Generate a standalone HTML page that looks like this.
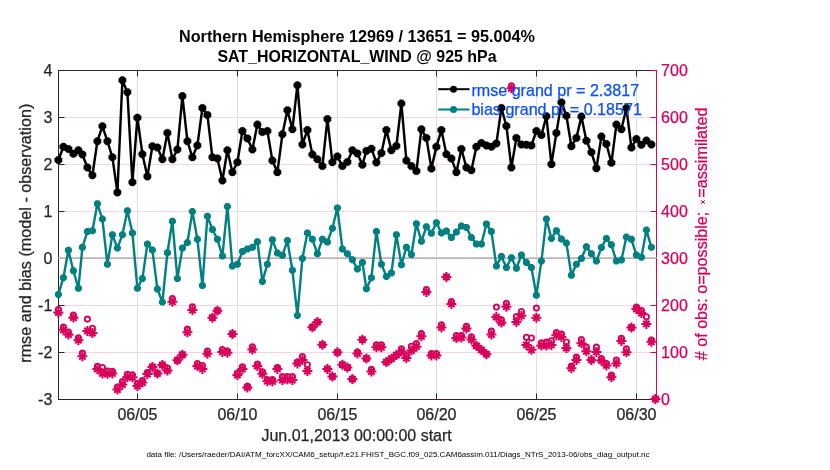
<!DOCTYPE html><html><head><meta charset="utf-8"><style>html,body{margin:0;padding:0;background:#fff;}svg{display:block;will-change:transform;}text{font-family:"Liberation Sans",sans-serif;}</style></head><body>
<svg width="830" height="470" viewBox="0 0 830 470">
<rect width="830" height="470" fill="#fff"/>
<line x1="137.5" y1="70.5" x2="137.5" y2="399.5" stroke="#dedede" stroke-width="1"/>
<line x1="237.5" y1="70.5" x2="237.5" y2="399.5" stroke="#dedede" stroke-width="1"/>
<line x1="337.5" y1="70.5" x2="337.5" y2="399.5" stroke="#dedede" stroke-width="1"/>
<line x1="436.5" y1="70.5" x2="436.5" y2="399.5" stroke="#dedede" stroke-width="1"/>
<line x1="536.5" y1="70.5" x2="536.5" y2="399.5" stroke="#dedede" stroke-width="1"/>
<line x1="636.5" y1="70.5" x2="636.5" y2="399.5" stroke="#dedede" stroke-width="1"/>
<line x1="58.5" y1="117.5" x2="656.5" y2="117.5" stroke="#f8d4e2" stroke-width="1"/>
<line x1="58.5" y1="164.5" x2="656.5" y2="164.5" stroke="#f8d4e2" stroke-width="1"/>
<line x1="58.5" y1="211.5" x2="656.5" y2="211.5" stroke="#f8d4e2" stroke-width="1"/>
<line x1="58.5" y1="305.5" x2="656.5" y2="305.5" stroke="#f8d4e2" stroke-width="1"/>
<line x1="58.5" y1="352.5" x2="656.5" y2="352.5" stroke="#f8d4e2" stroke-width="1"/>
<line x1="58.5" y1="70.5" x2="651" y2="70.5" stroke="#262626" stroke-width="1"/>
<line x1="651" y1="70.5" x2="656.5" y2="70.5" stroke="#d9005b" stroke-width="1"/>
<line x1="58.5" y1="399.5" x2="656.5" y2="399.5" stroke="#3c1c2a" stroke-width="1"/>
<line x1="58.5" y1="70.0" x2="58.5" y2="400.0" stroke="#262626" stroke-width="1"/>
<line x1="656.5" y1="70.0" x2="656.5" y2="400.0" stroke="#d9005b" stroke-width="1"/>
<line x1="137.5" y1="70.5" x2="137.5" y2="76.5" stroke="#262626" stroke-width="1"/>
<line x1="137.5" y1="399.5" x2="137.5" y2="393.5" stroke="#262626" stroke-width="1"/>
<line x1="237.5" y1="70.5" x2="237.5" y2="76.5" stroke="#262626" stroke-width="1"/>
<line x1="237.5" y1="399.5" x2="237.5" y2="393.5" stroke="#262626" stroke-width="1"/>
<line x1="337.5" y1="70.5" x2="337.5" y2="76.5" stroke="#262626" stroke-width="1"/>
<line x1="337.5" y1="399.5" x2="337.5" y2="393.5" stroke="#262626" stroke-width="1"/>
<line x1="436.5" y1="70.5" x2="436.5" y2="76.5" stroke="#262626" stroke-width="1"/>
<line x1="436.5" y1="399.5" x2="436.5" y2="393.5" stroke="#262626" stroke-width="1"/>
<line x1="536.5" y1="70.5" x2="536.5" y2="76.5" stroke="#262626" stroke-width="1"/>
<line x1="536.5" y1="399.5" x2="536.5" y2="393.5" stroke="#262626" stroke-width="1"/>
<line x1="636.5" y1="70.5" x2="636.5" y2="76.5" stroke="#262626" stroke-width="1"/>
<line x1="636.5" y1="399.5" x2="636.5" y2="393.5" stroke="#262626" stroke-width="1"/>
<line x1="58.5" y1="399.5" x2="64.5" y2="399.5" stroke="#3c1c2a" stroke-width="1"/>
<line x1="656.5" y1="399.5" x2="650.5" y2="399.5" stroke="#d9005b" stroke-width="1"/>
<line x1="58.5" y1="352.5" x2="64.5" y2="352.5" stroke="#3c1c2a" stroke-width="1"/>
<line x1="656.5" y1="352.5" x2="650.5" y2="352.5" stroke="#d9005b" stroke-width="1"/>
<line x1="58.5" y1="305.5" x2="64.5" y2="305.5" stroke="#3c1c2a" stroke-width="1"/>
<line x1="656.5" y1="305.5" x2="650.5" y2="305.5" stroke="#d9005b" stroke-width="1"/>
<line x1="58.5" y1="258.5" x2="64.5" y2="258.5" stroke="#3c1c2a" stroke-width="1"/>
<line x1="656.5" y1="258.5" x2="650.5" y2="258.5" stroke="#d9005b" stroke-width="1"/>
<line x1="58.5" y1="211.5" x2="64.5" y2="211.5" stroke="#3c1c2a" stroke-width="1"/>
<line x1="656.5" y1="211.5" x2="650.5" y2="211.5" stroke="#d9005b" stroke-width="1"/>
<line x1="58.5" y1="164.5" x2="64.5" y2="164.5" stroke="#3c1c2a" stroke-width="1"/>
<line x1="656.5" y1="164.5" x2="650.5" y2="164.5" stroke="#d9005b" stroke-width="1"/>
<line x1="58.5" y1="117.5" x2="64.5" y2="117.5" stroke="#3c1c2a" stroke-width="1"/>
<line x1="656.5" y1="117.5" x2="650.5" y2="117.5" stroke="#d9005b" stroke-width="1"/>
<line x1="58.5" y1="70.5" x2="64.5" y2="70.5" stroke="#3c1c2a" stroke-width="1"/>
<line x1="656.5" y1="70.5" x2="650.5" y2="70.5" stroke="#d9005b" stroke-width="1"/>
<line x1="58.5" y1="257.5" x2="656.5" y2="257.5" stroke="#cbcbcb" stroke-width="1"/>
<line x1="58.5" y1="258.5" x2="656.5" y2="258.5" stroke="#c9a9b3" stroke-width="1"/>
<polyline points="58.40,160.00 63.40,146.70 68.40,149.00 73.40,153.70 78.40,150.30 82.40,154.50 87.40,167.50 92.40,175.30 97.40,141.20 102.40,126.30 107.40,141.20 112.40,157.30 117.40,192.40 122.40,80.30 127.40,92.20 132.40,182.20 137.40,117.70 142.40,154.20 147.40,176.40 152.40,146.20 157.40,147.60 162.40,159.20 167.40,132.90 172.40,159.20 177.40,149.50 182.40,96.10 187.40,141.20 192.40,157.30 197.40,145.40 202.40,108.00 207.40,114.90 212.40,157.30 217.40,158.40 222.40,180.50 227.40,150.30 232.40,172.20 237.40,162.20 242.40,131.00 247.40,138.40 252.40,149.50 257.40,124.60 262.40,132.10 267.40,131.00 272.40,160.60 277.40,172.20 282.40,134.30 287.40,110.20 292.40,129.30 297.40,85.20 302.40,144.50 307.40,130.10 312.40,154.50 317.40,159.20 322.40,166.10 327.40,119.10 332.40,162.20 337.40,156.40 342.40,166.10 347.40,162.00 352.40,150.30 357.40,153.40 362.40,164.70 366.40,150.90 371.40,148.70 376.40,162.50 381.40,153.10 386.40,130.10 391.40,150.30 396.40,145.90 401.40,103.50 406.40,160.60 411.40,166.10 416.40,171.10 421.40,129.30 426.40,137.90 431.40,168.60 436.40,146.70 441.40,130.10 446.40,154.20 451.40,158.60 456.40,172.20 461.40,149.00 466.40,167.50 471.40,170.30 476.40,146.70 481.40,143.10 486.40,145.40 491.40,146.70 496.40,143.40 501.40,108.00 506.40,126.00 511.40,167.50 516.40,137.90 521.40,144.50 526.40,144.80 531.40,145.40 536.40,131.00 541.40,135.10 546.40,116.30 551.40,164.20 556.40,132.90 561.40,102.40 566.40,115.70 571.40,146.20 576.40,137.90 581.40,116.50 586.40,140.80 591.40,152.30 596.40,168.30 601.40,136.50 606.40,144.00 611.40,162.80 616.40,124.60 621.40,129.30 626.40,108.00 631.40,147.60 636.40,139.00 641.40,144.80 646.40,140.60 651.40,144.50" fill="none" stroke="#000" stroke-width="2.45" stroke-linejoin="round"/>
<polygon points="62.14,161.55 59.95,163.74 56.85,163.74 54.66,161.55 54.66,158.45 56.85,156.26 59.95,156.26 62.14,158.45" fill="#000" stroke="#000" stroke-width="0.3" stroke-linejoin="miter"/>
<polygon points="67.14,148.25 64.95,150.44 61.85,150.44 59.66,148.25 59.66,145.15 61.85,142.96 64.95,142.96 67.14,145.15" fill="#000" stroke="#000" stroke-width="0.3" stroke-linejoin="miter"/>
<polygon points="72.14,150.55 69.95,152.74 66.85,152.74 64.66,150.55 64.66,147.45 66.85,145.26 69.95,145.26 72.14,147.45" fill="#000" stroke="#000" stroke-width="0.3" stroke-linejoin="miter"/>
<polygon points="77.14,155.25 74.95,157.44 71.85,157.44 69.66,155.25 69.66,152.15 71.85,149.96 74.95,149.96 77.14,152.15" fill="#000" stroke="#000" stroke-width="0.3" stroke-linejoin="miter"/>
<polygon points="82.14,151.85 79.95,154.04 76.85,154.04 74.66,151.85 74.66,148.75 76.85,146.56 79.95,146.56 82.14,148.75" fill="#000" stroke="#000" stroke-width="0.3" stroke-linejoin="miter"/>
<polygon points="86.14,156.05 83.95,158.24 80.85,158.24 78.66,156.05 78.66,152.95 80.85,150.76 83.95,150.76 86.14,152.95" fill="#000" stroke="#000" stroke-width="0.3" stroke-linejoin="miter"/>
<polygon points="91.14,169.05 88.95,171.24 85.85,171.24 83.66,169.05 83.66,165.95 85.85,163.76 88.95,163.76 91.14,165.95" fill="#000" stroke="#000" stroke-width="0.3" stroke-linejoin="miter"/>
<polygon points="96.14,176.85 93.95,179.04 90.85,179.04 88.66,176.85 88.66,173.75 90.85,171.56 93.95,171.56 96.14,173.75" fill="#000" stroke="#000" stroke-width="0.3" stroke-linejoin="miter"/>
<polygon points="101.14,142.75 98.95,144.94 95.85,144.94 93.66,142.75 93.66,139.65 95.85,137.46 98.95,137.46 101.14,139.65" fill="#000" stroke="#000" stroke-width="0.3" stroke-linejoin="miter"/>
<polygon points="106.14,127.85 103.95,130.04 100.85,130.04 98.66,127.85 98.66,124.75 100.85,122.56 103.95,122.56 106.14,124.75" fill="#000" stroke="#000" stroke-width="0.3" stroke-linejoin="miter"/>
<polygon points="111.14,142.75 108.95,144.94 105.85,144.94 103.66,142.75 103.66,139.65 105.85,137.46 108.95,137.46 111.14,139.65" fill="#000" stroke="#000" stroke-width="0.3" stroke-linejoin="miter"/>
<polygon points="116.14,158.85 113.95,161.04 110.85,161.04 108.66,158.85 108.66,155.75 110.85,153.56 113.95,153.56 116.14,155.75" fill="#000" stroke="#000" stroke-width="0.3" stroke-linejoin="miter"/>
<polygon points="121.14,193.95 118.95,196.14 115.85,196.14 113.66,193.95 113.66,190.85 115.85,188.66 118.95,188.66 121.14,190.85" fill="#000" stroke="#000" stroke-width="0.3" stroke-linejoin="miter"/>
<polygon points="126.14,81.85 123.95,84.04 120.85,84.04 118.66,81.85 118.66,78.75 120.85,76.56 123.95,76.56 126.14,78.75" fill="#000" stroke="#000" stroke-width="0.3" stroke-linejoin="miter"/>
<polygon points="131.14,93.75 128.95,95.94 125.85,95.94 123.66,93.75 123.66,90.65 125.85,88.46 128.95,88.46 131.14,90.65" fill="#000" stroke="#000" stroke-width="0.3" stroke-linejoin="miter"/>
<polygon points="136.14,183.75 133.95,185.94 130.85,185.94 128.66,183.75 128.66,180.65 130.85,178.46 133.95,178.46 136.14,180.65" fill="#000" stroke="#000" stroke-width="0.3" stroke-linejoin="miter"/>
<polygon points="141.14,119.25 138.95,121.44 135.85,121.44 133.66,119.25 133.66,116.15 135.85,113.96 138.95,113.96 141.14,116.15" fill="#000" stroke="#000" stroke-width="0.3" stroke-linejoin="miter"/>
<polygon points="146.14,155.75 143.95,157.94 140.85,157.94 138.66,155.75 138.66,152.65 140.85,150.46 143.95,150.46 146.14,152.65" fill="#000" stroke="#000" stroke-width="0.3" stroke-linejoin="miter"/>
<polygon points="151.14,177.95 148.95,180.14 145.85,180.14 143.66,177.95 143.66,174.85 145.85,172.66 148.95,172.66 151.14,174.85" fill="#000" stroke="#000" stroke-width="0.3" stroke-linejoin="miter"/>
<polygon points="156.14,147.75 153.95,149.94 150.85,149.94 148.66,147.75 148.66,144.65 150.85,142.46 153.95,142.46 156.14,144.65" fill="#000" stroke="#000" stroke-width="0.3" stroke-linejoin="miter"/>
<polygon points="161.14,149.15 158.95,151.34 155.85,151.34 153.66,149.15 153.66,146.05 155.85,143.86 158.95,143.86 161.14,146.05" fill="#000" stroke="#000" stroke-width="0.3" stroke-linejoin="miter"/>
<polygon points="166.14,160.75 163.95,162.94 160.85,162.94 158.66,160.75 158.66,157.65 160.85,155.46 163.95,155.46 166.14,157.65" fill="#000" stroke="#000" stroke-width="0.3" stroke-linejoin="miter"/>
<polygon points="171.14,134.45 168.95,136.64 165.85,136.64 163.66,134.45 163.66,131.35 165.85,129.16 168.95,129.16 171.14,131.35" fill="#000" stroke="#000" stroke-width="0.3" stroke-linejoin="miter"/>
<polygon points="176.14,160.75 173.95,162.94 170.85,162.94 168.66,160.75 168.66,157.65 170.85,155.46 173.95,155.46 176.14,157.65" fill="#000" stroke="#000" stroke-width="0.3" stroke-linejoin="miter"/>
<polygon points="181.14,151.05 178.95,153.24 175.85,153.24 173.66,151.05 173.66,147.95 175.85,145.76 178.95,145.76 181.14,147.95" fill="#000" stroke="#000" stroke-width="0.3" stroke-linejoin="miter"/>
<polygon points="186.14,97.65 183.95,99.84 180.85,99.84 178.66,97.65 178.66,94.55 180.85,92.36 183.95,92.36 186.14,94.55" fill="#000" stroke="#000" stroke-width="0.3" stroke-linejoin="miter"/>
<polygon points="191.14,142.75 188.95,144.94 185.85,144.94 183.66,142.75 183.66,139.65 185.85,137.46 188.95,137.46 191.14,139.65" fill="#000" stroke="#000" stroke-width="0.3" stroke-linejoin="miter"/>
<polygon points="196.14,158.85 193.95,161.04 190.85,161.04 188.66,158.85 188.66,155.75 190.85,153.56 193.95,153.56 196.14,155.75" fill="#000" stroke="#000" stroke-width="0.3" stroke-linejoin="miter"/>
<polygon points="201.14,146.95 198.95,149.14 195.85,149.14 193.66,146.95 193.66,143.85 195.85,141.66 198.95,141.66 201.14,143.85" fill="#000" stroke="#000" stroke-width="0.3" stroke-linejoin="miter"/>
<polygon points="206.14,109.55 203.95,111.74 200.85,111.74 198.66,109.55 198.66,106.45 200.85,104.26 203.95,104.26 206.14,106.45" fill="#000" stroke="#000" stroke-width="0.3" stroke-linejoin="miter"/>
<polygon points="211.14,116.45 208.95,118.64 205.85,118.64 203.66,116.45 203.66,113.35 205.85,111.16 208.95,111.16 211.14,113.35" fill="#000" stroke="#000" stroke-width="0.3" stroke-linejoin="miter"/>
<polygon points="216.14,158.85 213.95,161.04 210.85,161.04 208.66,158.85 208.66,155.75 210.85,153.56 213.95,153.56 216.14,155.75" fill="#000" stroke="#000" stroke-width="0.3" stroke-linejoin="miter"/>
<polygon points="221.14,159.95 218.95,162.14 215.85,162.14 213.66,159.95 213.66,156.85 215.85,154.66 218.95,154.66 221.14,156.85" fill="#000" stroke="#000" stroke-width="0.3" stroke-linejoin="miter"/>
<polygon points="226.14,182.05 223.95,184.24 220.85,184.24 218.66,182.05 218.66,178.95 220.85,176.76 223.95,176.76 226.14,178.95" fill="#000" stroke="#000" stroke-width="0.3" stroke-linejoin="miter"/>
<polygon points="231.14,151.85 228.95,154.04 225.85,154.04 223.66,151.85 223.66,148.75 225.85,146.56 228.95,146.56 231.14,148.75" fill="#000" stroke="#000" stroke-width="0.3" stroke-linejoin="miter"/>
<polygon points="236.14,173.75 233.95,175.94 230.85,175.94 228.66,173.75 228.66,170.65 230.85,168.46 233.95,168.46 236.14,170.65" fill="#000" stroke="#000" stroke-width="0.3" stroke-linejoin="miter"/>
<polygon points="241.14,163.75 238.95,165.94 235.85,165.94 233.66,163.75 233.66,160.65 235.85,158.46 238.95,158.46 241.14,160.65" fill="#000" stroke="#000" stroke-width="0.3" stroke-linejoin="miter"/>
<polygon points="246.14,132.55 243.95,134.74 240.85,134.74 238.66,132.55 238.66,129.45 240.85,127.26 243.95,127.26 246.14,129.45" fill="#000" stroke="#000" stroke-width="0.3" stroke-linejoin="miter"/>
<polygon points="251.14,139.95 248.95,142.14 245.85,142.14 243.66,139.95 243.66,136.85 245.85,134.66 248.95,134.66 251.14,136.85" fill="#000" stroke="#000" stroke-width="0.3" stroke-linejoin="miter"/>
<polygon points="256.14,151.05 253.95,153.24 250.85,153.24 248.66,151.05 248.66,147.95 250.85,145.76 253.95,145.76 256.14,147.95" fill="#000" stroke="#000" stroke-width="0.3" stroke-linejoin="miter"/>
<polygon points="261.14,126.15 258.95,128.34 255.85,128.34 253.66,126.15 253.66,123.05 255.85,120.86 258.95,120.86 261.14,123.05" fill="#000" stroke="#000" stroke-width="0.3" stroke-linejoin="miter"/>
<polygon points="266.14,133.65 263.95,135.84 260.85,135.84 258.66,133.65 258.66,130.55 260.85,128.36 263.95,128.36 266.14,130.55" fill="#000" stroke="#000" stroke-width="0.3" stroke-linejoin="miter"/>
<polygon points="271.14,132.55 268.95,134.74 265.85,134.74 263.66,132.55 263.66,129.45 265.85,127.26 268.95,127.26 271.14,129.45" fill="#000" stroke="#000" stroke-width="0.3" stroke-linejoin="miter"/>
<polygon points="276.14,162.15 273.95,164.34 270.85,164.34 268.66,162.15 268.66,159.05 270.85,156.86 273.95,156.86 276.14,159.05" fill="#000" stroke="#000" stroke-width="0.3" stroke-linejoin="miter"/>
<polygon points="281.14,173.75 278.95,175.94 275.85,175.94 273.66,173.75 273.66,170.65 275.85,168.46 278.95,168.46 281.14,170.65" fill="#000" stroke="#000" stroke-width="0.3" stroke-linejoin="miter"/>
<polygon points="286.14,135.85 283.95,138.04 280.85,138.04 278.66,135.85 278.66,132.75 280.85,130.56 283.95,130.56 286.14,132.75" fill="#000" stroke="#000" stroke-width="0.3" stroke-linejoin="miter"/>
<polygon points="291.14,111.75 288.95,113.94 285.85,113.94 283.66,111.75 283.66,108.65 285.85,106.46 288.95,106.46 291.14,108.65" fill="#000" stroke="#000" stroke-width="0.3" stroke-linejoin="miter"/>
<polygon points="296.14,130.85 293.95,133.04 290.85,133.04 288.66,130.85 288.66,127.75 290.85,125.56 293.95,125.56 296.14,127.75" fill="#000" stroke="#000" stroke-width="0.3" stroke-linejoin="miter"/>
<polygon points="301.14,86.75 298.95,88.94 295.85,88.94 293.66,86.75 293.66,83.65 295.85,81.46 298.95,81.46 301.14,83.65" fill="#000" stroke="#000" stroke-width="0.3" stroke-linejoin="miter"/>
<polygon points="306.14,146.05 303.95,148.24 300.85,148.24 298.66,146.05 298.66,142.95 300.85,140.76 303.95,140.76 306.14,142.95" fill="#000" stroke="#000" stroke-width="0.3" stroke-linejoin="miter"/>
<polygon points="311.14,131.65 308.95,133.84 305.85,133.84 303.66,131.65 303.66,128.55 305.85,126.36 308.95,126.36 311.14,128.55" fill="#000" stroke="#000" stroke-width="0.3" stroke-linejoin="miter"/>
<polygon points="316.14,156.05 313.95,158.24 310.85,158.24 308.66,156.05 308.66,152.95 310.85,150.76 313.95,150.76 316.14,152.95" fill="#000" stroke="#000" stroke-width="0.3" stroke-linejoin="miter"/>
<polygon points="321.14,160.75 318.95,162.94 315.85,162.94 313.66,160.75 313.66,157.65 315.85,155.46 318.95,155.46 321.14,157.65" fill="#000" stroke="#000" stroke-width="0.3" stroke-linejoin="miter"/>
<polygon points="326.14,167.65 323.95,169.84 320.85,169.84 318.66,167.65 318.66,164.55 320.85,162.36 323.95,162.36 326.14,164.55" fill="#000" stroke="#000" stroke-width="0.3" stroke-linejoin="miter"/>
<polygon points="331.14,120.65 328.95,122.84 325.85,122.84 323.66,120.65 323.66,117.55 325.85,115.36 328.95,115.36 331.14,117.55" fill="#000" stroke="#000" stroke-width="0.3" stroke-linejoin="miter"/>
<polygon points="336.14,163.75 333.95,165.94 330.85,165.94 328.66,163.75 328.66,160.65 330.85,158.46 333.95,158.46 336.14,160.65" fill="#000" stroke="#000" stroke-width="0.3" stroke-linejoin="miter"/>
<polygon points="341.14,157.95 338.95,160.14 335.85,160.14 333.66,157.95 333.66,154.85 335.85,152.66 338.95,152.66 341.14,154.85" fill="#000" stroke="#000" stroke-width="0.3" stroke-linejoin="miter"/>
<polygon points="346.14,167.65 343.95,169.84 340.85,169.84 338.66,167.65 338.66,164.55 340.85,162.36 343.95,162.36 346.14,164.55" fill="#000" stroke="#000" stroke-width="0.3" stroke-linejoin="miter"/>
<polygon points="351.14,163.55 348.95,165.74 345.85,165.74 343.66,163.55 343.66,160.45 345.85,158.26 348.95,158.26 351.14,160.45" fill="#000" stroke="#000" stroke-width="0.3" stroke-linejoin="miter"/>
<polygon points="356.14,151.85 353.95,154.04 350.85,154.04 348.66,151.85 348.66,148.75 350.85,146.56 353.95,146.56 356.14,148.75" fill="#000" stroke="#000" stroke-width="0.3" stroke-linejoin="miter"/>
<polygon points="361.14,154.95 358.95,157.14 355.85,157.14 353.66,154.95 353.66,151.85 355.85,149.66 358.95,149.66 361.14,151.85" fill="#000" stroke="#000" stroke-width="0.3" stroke-linejoin="miter"/>
<polygon points="366.14,166.25 363.95,168.44 360.85,168.44 358.66,166.25 358.66,163.15 360.85,160.96 363.95,160.96 366.14,163.15" fill="#000" stroke="#000" stroke-width="0.3" stroke-linejoin="miter"/>
<polygon points="370.14,152.45 367.95,154.64 364.85,154.64 362.66,152.45 362.66,149.35 364.85,147.16 367.95,147.16 370.14,149.35" fill="#000" stroke="#000" stroke-width="0.3" stroke-linejoin="miter"/>
<polygon points="375.14,150.25 372.95,152.44 369.85,152.44 367.66,150.25 367.66,147.15 369.85,144.96 372.95,144.96 375.14,147.15" fill="#000" stroke="#000" stroke-width="0.3" stroke-linejoin="miter"/>
<polygon points="380.14,164.05 377.95,166.24 374.85,166.24 372.66,164.05 372.66,160.95 374.85,158.76 377.95,158.76 380.14,160.95" fill="#000" stroke="#000" stroke-width="0.3" stroke-linejoin="miter"/>
<polygon points="385.14,154.65 382.95,156.84 379.85,156.84 377.66,154.65 377.66,151.55 379.85,149.36 382.95,149.36 385.14,151.55" fill="#000" stroke="#000" stroke-width="0.3" stroke-linejoin="miter"/>
<polygon points="390.14,131.65 387.95,133.84 384.85,133.84 382.66,131.65 382.66,128.55 384.85,126.36 387.95,126.36 390.14,128.55" fill="#000" stroke="#000" stroke-width="0.3" stroke-linejoin="miter"/>
<polygon points="395.14,151.85 392.95,154.04 389.85,154.04 387.66,151.85 387.66,148.75 389.85,146.56 392.95,146.56 395.14,148.75" fill="#000" stroke="#000" stroke-width="0.3" stroke-linejoin="miter"/>
<polygon points="400.14,147.45 397.95,149.64 394.85,149.64 392.66,147.45 392.66,144.35 394.85,142.16 397.95,142.16 400.14,144.35" fill="#000" stroke="#000" stroke-width="0.3" stroke-linejoin="miter"/>
<polygon points="405.14,105.05 402.95,107.24 399.85,107.24 397.66,105.05 397.66,101.95 399.85,99.76 402.95,99.76 405.14,101.95" fill="#000" stroke="#000" stroke-width="0.3" stroke-linejoin="miter"/>
<polygon points="410.14,162.15 407.95,164.34 404.85,164.34 402.66,162.15 402.66,159.05 404.85,156.86 407.95,156.86 410.14,159.05" fill="#000" stroke="#000" stroke-width="0.3" stroke-linejoin="miter"/>
<polygon points="415.14,167.65 412.95,169.84 409.85,169.84 407.66,167.65 407.66,164.55 409.85,162.36 412.95,162.36 415.14,164.55" fill="#000" stroke="#000" stroke-width="0.3" stroke-linejoin="miter"/>
<polygon points="420.14,172.65 417.95,174.84 414.85,174.84 412.66,172.65 412.66,169.55 414.85,167.36 417.95,167.36 420.14,169.55" fill="#000" stroke="#000" stroke-width="0.3" stroke-linejoin="miter"/>
<polygon points="425.14,130.85 422.95,133.04 419.85,133.04 417.66,130.85 417.66,127.75 419.85,125.56 422.95,125.56 425.14,127.75" fill="#000" stroke="#000" stroke-width="0.3" stroke-linejoin="miter"/>
<polygon points="430.14,139.45 427.95,141.64 424.85,141.64 422.66,139.45 422.66,136.35 424.85,134.16 427.95,134.16 430.14,136.35" fill="#000" stroke="#000" stroke-width="0.3" stroke-linejoin="miter"/>
<polygon points="435.14,170.15 432.95,172.34 429.85,172.34 427.66,170.15 427.66,167.05 429.85,164.86 432.95,164.86 435.14,167.05" fill="#000" stroke="#000" stroke-width="0.3" stroke-linejoin="miter"/>
<polygon points="440.14,148.25 437.95,150.44 434.85,150.44 432.66,148.25 432.66,145.15 434.85,142.96 437.95,142.96 440.14,145.15" fill="#000" stroke="#000" stroke-width="0.3" stroke-linejoin="miter"/>
<polygon points="445.14,131.65 442.95,133.84 439.85,133.84 437.66,131.65 437.66,128.55 439.85,126.36 442.95,126.36 445.14,128.55" fill="#000" stroke="#000" stroke-width="0.3" stroke-linejoin="miter"/>
<polygon points="450.14,155.75 447.95,157.94 444.85,157.94 442.66,155.75 442.66,152.65 444.85,150.46 447.95,150.46 450.14,152.65" fill="#000" stroke="#000" stroke-width="0.3" stroke-linejoin="miter"/>
<polygon points="455.14,160.15 452.95,162.34 449.85,162.34 447.66,160.15 447.66,157.05 449.85,154.86 452.95,154.86 455.14,157.05" fill="#000" stroke="#000" stroke-width="0.3" stroke-linejoin="miter"/>
<polygon points="460.14,173.75 457.95,175.94 454.85,175.94 452.66,173.75 452.66,170.65 454.85,168.46 457.95,168.46 460.14,170.65" fill="#000" stroke="#000" stroke-width="0.3" stroke-linejoin="miter"/>
<polygon points="465.14,150.55 462.95,152.74 459.85,152.74 457.66,150.55 457.66,147.45 459.85,145.26 462.95,145.26 465.14,147.45" fill="#000" stroke="#000" stroke-width="0.3" stroke-linejoin="miter"/>
<polygon points="470.14,169.05 467.95,171.24 464.85,171.24 462.66,169.05 462.66,165.95 464.85,163.76 467.95,163.76 470.14,165.95" fill="#000" stroke="#000" stroke-width="0.3" stroke-linejoin="miter"/>
<polygon points="475.14,171.85 472.95,174.04 469.85,174.04 467.66,171.85 467.66,168.75 469.85,166.56 472.95,166.56 475.14,168.75" fill="#000" stroke="#000" stroke-width="0.3" stroke-linejoin="miter"/>
<polygon points="480.14,148.25 477.95,150.44 474.85,150.44 472.66,148.25 472.66,145.15 474.85,142.96 477.95,142.96 480.14,145.15" fill="#000" stroke="#000" stroke-width="0.3" stroke-linejoin="miter"/>
<polygon points="485.14,144.65 482.95,146.84 479.85,146.84 477.66,144.65 477.66,141.55 479.85,139.36 482.95,139.36 485.14,141.55" fill="#000" stroke="#000" stroke-width="0.3" stroke-linejoin="miter"/>
<polygon points="490.14,146.95 487.95,149.14 484.85,149.14 482.66,146.95 482.66,143.85 484.85,141.66 487.95,141.66 490.14,143.85" fill="#000" stroke="#000" stroke-width="0.3" stroke-linejoin="miter"/>
<polygon points="495.14,148.25 492.95,150.44 489.85,150.44 487.66,148.25 487.66,145.15 489.85,142.96 492.95,142.96 495.14,145.15" fill="#000" stroke="#000" stroke-width="0.3" stroke-linejoin="miter"/>
<polygon points="500.14,144.95 497.95,147.14 494.85,147.14 492.66,144.95 492.66,141.85 494.85,139.66 497.95,139.66 500.14,141.85" fill="#000" stroke="#000" stroke-width="0.3" stroke-linejoin="miter"/>
<polygon points="505.14,109.55 502.95,111.74 499.85,111.74 497.66,109.55 497.66,106.45 499.85,104.26 502.95,104.26 505.14,106.45" fill="#000" stroke="#000" stroke-width="0.3" stroke-linejoin="miter"/>
<polygon points="510.14,127.55 507.95,129.74 504.85,129.74 502.66,127.55 502.66,124.45 504.85,122.26 507.95,122.26 510.14,124.45" fill="#000" stroke="#000" stroke-width="0.3" stroke-linejoin="miter"/>
<polygon points="515.14,169.05 512.95,171.24 509.85,171.24 507.66,169.05 507.66,165.95 509.85,163.76 512.95,163.76 515.14,165.95" fill="#000" stroke="#000" stroke-width="0.3" stroke-linejoin="miter"/>
<polygon points="520.14,139.45 517.95,141.64 514.85,141.64 512.66,139.45 512.66,136.35 514.85,134.16 517.95,134.16 520.14,136.35" fill="#000" stroke="#000" stroke-width="0.3" stroke-linejoin="miter"/>
<polygon points="525.14,146.05 522.95,148.24 519.85,148.24 517.66,146.05 517.66,142.95 519.85,140.76 522.95,140.76 525.14,142.95" fill="#000" stroke="#000" stroke-width="0.3" stroke-linejoin="miter"/>
<polygon points="530.14,146.35 527.95,148.54 524.85,148.54 522.66,146.35 522.66,143.25 524.85,141.06 527.95,141.06 530.14,143.25" fill="#000" stroke="#000" stroke-width="0.3" stroke-linejoin="miter"/>
<polygon points="535.14,146.95 532.95,149.14 529.85,149.14 527.66,146.95 527.66,143.85 529.85,141.66 532.95,141.66 535.14,143.85" fill="#000" stroke="#000" stroke-width="0.3" stroke-linejoin="miter"/>
<polygon points="540.14,132.55 537.95,134.74 534.85,134.74 532.66,132.55 532.66,129.45 534.85,127.26 537.95,127.26 540.14,129.45" fill="#000" stroke="#000" stroke-width="0.3" stroke-linejoin="miter"/>
<polygon points="545.14,136.65 542.95,138.84 539.85,138.84 537.66,136.65 537.66,133.55 539.85,131.36 542.95,131.36 545.14,133.55" fill="#000" stroke="#000" stroke-width="0.3" stroke-linejoin="miter"/>
<polygon points="550.14,117.85 547.95,120.04 544.85,120.04 542.66,117.85 542.66,114.75 544.85,112.56 547.95,112.56 550.14,114.75" fill="#000" stroke="#000" stroke-width="0.3" stroke-linejoin="miter"/>
<polygon points="555.14,165.75 552.95,167.94 549.85,167.94 547.66,165.75 547.66,162.65 549.85,160.46 552.95,160.46 555.14,162.65" fill="#000" stroke="#000" stroke-width="0.3" stroke-linejoin="miter"/>
<polygon points="560.14,134.45 557.95,136.64 554.85,136.64 552.66,134.45 552.66,131.35 554.85,129.16 557.95,129.16 560.14,131.35" fill="#000" stroke="#000" stroke-width="0.3" stroke-linejoin="miter"/>
<polygon points="565.14,103.95 562.95,106.14 559.85,106.14 557.66,103.95 557.66,100.85 559.85,98.66 562.95,98.66 565.14,100.85" fill="#000" stroke="#000" stroke-width="0.3" stroke-linejoin="miter"/>
<polygon points="570.14,117.25 567.95,119.44 564.85,119.44 562.66,117.25 562.66,114.15 564.85,111.96 567.95,111.96 570.14,114.15" fill="#000" stroke="#000" stroke-width="0.3" stroke-linejoin="miter"/>
<polygon points="575.14,147.75 572.95,149.94 569.85,149.94 567.66,147.75 567.66,144.65 569.85,142.46 572.95,142.46 575.14,144.65" fill="#000" stroke="#000" stroke-width="0.3" stroke-linejoin="miter"/>
<polygon points="580.14,139.45 577.95,141.64 574.85,141.64 572.66,139.45 572.66,136.35 574.85,134.16 577.95,134.16 580.14,136.35" fill="#000" stroke="#000" stroke-width="0.3" stroke-linejoin="miter"/>
<polygon points="585.14,118.05 582.95,120.24 579.85,120.24 577.66,118.05 577.66,114.95 579.85,112.76 582.95,112.76 585.14,114.95" fill="#000" stroke="#000" stroke-width="0.3" stroke-linejoin="miter"/>
<polygon points="590.14,142.35 587.95,144.54 584.85,144.54 582.66,142.35 582.66,139.25 584.85,137.06 587.95,137.06 590.14,139.25" fill="#000" stroke="#000" stroke-width="0.3" stroke-linejoin="miter"/>
<polygon points="595.14,153.85 592.95,156.04 589.85,156.04 587.66,153.85 587.66,150.75 589.85,148.56 592.95,148.56 595.14,150.75" fill="#000" stroke="#000" stroke-width="0.3" stroke-linejoin="miter"/>
<polygon points="600.14,169.85 597.95,172.04 594.85,172.04 592.66,169.85 592.66,166.75 594.85,164.56 597.95,164.56 600.14,166.75" fill="#000" stroke="#000" stroke-width="0.3" stroke-linejoin="miter"/>
<polygon points="605.14,138.05 602.95,140.24 599.85,140.24 597.66,138.05 597.66,134.95 599.85,132.76 602.95,132.76 605.14,134.95" fill="#000" stroke="#000" stroke-width="0.3" stroke-linejoin="miter"/>
<polygon points="610.14,145.55 607.95,147.74 604.85,147.74 602.66,145.55 602.66,142.45 604.85,140.26 607.95,140.26 610.14,142.45" fill="#000" stroke="#000" stroke-width="0.3" stroke-linejoin="miter"/>
<polygon points="615.14,164.35 612.95,166.54 609.85,166.54 607.66,164.35 607.66,161.25 609.85,159.06 612.95,159.06 615.14,161.25" fill="#000" stroke="#000" stroke-width="0.3" stroke-linejoin="miter"/>
<polygon points="620.14,126.15 617.95,128.34 614.85,128.34 612.66,126.15 612.66,123.05 614.85,120.86 617.95,120.86 620.14,123.05" fill="#000" stroke="#000" stroke-width="0.3" stroke-linejoin="miter"/>
<polygon points="625.14,130.85 622.95,133.04 619.85,133.04 617.66,130.85 617.66,127.75 619.85,125.56 622.95,125.56 625.14,127.75" fill="#000" stroke="#000" stroke-width="0.3" stroke-linejoin="miter"/>
<polygon points="630.14,109.55 627.95,111.74 624.85,111.74 622.66,109.55 622.66,106.45 624.85,104.26 627.95,104.26 630.14,106.45" fill="#000" stroke="#000" stroke-width="0.3" stroke-linejoin="miter"/>
<polygon points="635.14,149.15 632.95,151.34 629.85,151.34 627.66,149.15 627.66,146.05 629.85,143.86 632.95,143.86 635.14,146.05" fill="#000" stroke="#000" stroke-width="0.3" stroke-linejoin="miter"/>
<polygon points="640.14,140.55 637.95,142.74 634.85,142.74 632.66,140.55 632.66,137.45 634.85,135.26 637.95,135.26 640.14,137.45" fill="#000" stroke="#000" stroke-width="0.3" stroke-linejoin="miter"/>
<polygon points="645.14,146.35 642.95,148.54 639.85,148.54 637.66,146.35 637.66,143.25 639.85,141.06 642.95,141.06 645.14,143.25" fill="#000" stroke="#000" stroke-width="0.3" stroke-linejoin="miter"/>
<polygon points="650.14,142.15 647.95,144.34 644.85,144.34 642.66,142.15 642.66,139.05 644.85,136.86 647.95,136.86 650.14,139.05" fill="#000" stroke="#000" stroke-width="0.3" stroke-linejoin="miter"/>
<polygon points="655.14,146.05 652.95,148.24 649.85,148.24 647.66,146.05 647.66,142.95 649.85,140.76 652.95,140.76 655.14,142.95" fill="#000" stroke="#000" stroke-width="0.3" stroke-linejoin="miter"/>
<polyline points="58.40,294.40 63.40,277.70 68.40,250.30 73.40,270.80 78.40,288.30 82.40,247.30 87.40,231.50 92.40,230.70 97.40,203.80 102.40,219.10 107.40,264.20 112.40,234.80 117.40,248.10 122.40,234.80 127.40,210.80 132.40,232.90 137.40,288.30 142.40,278.60 147.40,244.00 152.40,250.10 157.40,289.10 162.40,302.10 167.40,252.80 172.40,221.30 177.40,278.60 182.40,248.10 187.40,242.60 192.40,211.60 197.40,239.30 202.40,285.50 207.40,216.30 212.40,229.50 217.40,239.30 222.40,255.90 227.40,206.60 232.40,266.10 237.40,264.20 242.40,251.50 247.40,249.00 252.40,247.30 257.40,241.80 262.40,281.40 267.40,264.20 272.40,239.80 277.40,253.10 282.40,255.30 287.40,240.60 292.40,270.30 297.40,315.40 302.40,258.40 307.40,232.90 312.40,239.30 317.40,253.70 322.40,239.30 327.40,242.00 332.40,228.20 337.40,208.00 342.40,249.00 347.40,253.70 352.40,259.80 357.40,269.10 362.40,262.50 366.40,288.80 371.40,277.80 376.40,231.50 381.40,264.20 386.40,276.40 391.40,273.00 396.40,234.80 401.40,264.70 406.40,247.30 411.40,254.50 416.40,223.80 421.40,241.20 426.40,226.80 431.40,233.20 436.40,222.70 441.40,232.90 446.40,231.00 451.40,237.60 456.40,232.10 461.40,226.00 466.40,227.40 471.40,237.60 476.40,244.00 481.40,244.00 486.40,224.00 491.40,231.50 496.40,266.10 501.40,256.40 506.40,267.50 511.40,257.80 516.40,268.30 521.40,255.00 526.40,262.50 531.40,267.50 536.40,295.20 541.40,261.10 546.40,219.10 551.40,238.40 556.40,230.70 561.40,239.00 566.40,243.10 571.40,275.30 576.40,264.20 581.40,258.50 586.40,246.70 591.40,253.70 596.40,261.10 601.40,247.60 606.40,238.40 611.40,244.80 616.40,261.10 621.40,260.00 626.40,237.10 631.40,239.30 636.40,255.00 641.40,257.30 646.40,230.10 651.40,247.30" fill="none" stroke="#008080" stroke-width="2.4" stroke-linejoin="round"/>
<polygon points="61.91,295.85 59.85,297.91 56.95,297.91 54.89,295.85 54.89,292.95 56.95,290.89 59.85,290.89 61.91,292.95" fill="#008080"/>
<polygon points="66.91,279.15 64.85,281.21 61.95,281.21 59.89,279.15 59.89,276.25 61.95,274.19 64.85,274.19 66.91,276.25" fill="#008080"/>
<polygon points="71.91,251.75 69.85,253.81 66.95,253.81 64.89,251.75 64.89,248.85 66.95,246.79 69.85,246.79 71.91,248.85" fill="#008080"/>
<polygon points="76.91,272.25 74.85,274.31 71.95,274.31 69.89,272.25 69.89,269.35 71.95,267.29 74.85,267.29 76.91,269.35" fill="#008080"/>
<polygon points="81.91,289.75 79.85,291.81 76.95,291.81 74.89,289.75 74.89,286.85 76.95,284.79 79.85,284.79 81.91,286.85" fill="#008080"/>
<polygon points="85.91,248.75 83.85,250.81 80.95,250.81 78.89,248.75 78.89,245.85 80.95,243.79 83.85,243.79 85.91,245.85" fill="#008080"/>
<polygon points="90.91,232.95 88.85,235.01 85.95,235.01 83.89,232.95 83.89,230.05 85.95,227.99 88.85,227.99 90.91,230.05" fill="#008080"/>
<polygon points="95.91,232.15 93.85,234.21 90.95,234.21 88.89,232.15 88.89,229.25 90.95,227.19 93.85,227.19 95.91,229.25" fill="#008080"/>
<polygon points="100.91,205.25 98.85,207.31 95.95,207.31 93.89,205.25 93.89,202.35 95.95,200.29 98.85,200.29 100.91,202.35" fill="#008080"/>
<polygon points="105.91,220.55 103.85,222.61 100.95,222.61 98.89,220.55 98.89,217.65 100.95,215.59 103.85,215.59 105.91,217.65" fill="#008080"/>
<polygon points="110.91,265.65 108.85,267.71 105.95,267.71 103.89,265.65 103.89,262.75 105.95,260.69 108.85,260.69 110.91,262.75" fill="#008080"/>
<polygon points="115.91,236.25 113.85,238.31 110.95,238.31 108.89,236.25 108.89,233.35 110.95,231.29 113.85,231.29 115.91,233.35" fill="#008080"/>
<polygon points="120.91,249.55 118.85,251.61 115.95,251.61 113.89,249.55 113.89,246.65 115.95,244.59 118.85,244.59 120.91,246.65" fill="#008080"/>
<polygon points="125.91,236.25 123.85,238.31 120.95,238.31 118.89,236.25 118.89,233.35 120.95,231.29 123.85,231.29 125.91,233.35" fill="#008080"/>
<polygon points="130.91,212.25 128.85,214.31 125.95,214.31 123.89,212.25 123.89,209.35 125.95,207.29 128.85,207.29 130.91,209.35" fill="#008080"/>
<polygon points="135.91,234.35 133.85,236.41 130.95,236.41 128.89,234.35 128.89,231.45 130.95,229.39 133.85,229.39 135.91,231.45" fill="#008080"/>
<polygon points="140.91,289.75 138.85,291.81 135.95,291.81 133.89,289.75 133.89,286.85 135.95,284.79 138.85,284.79 140.91,286.85" fill="#008080"/>
<polygon points="145.91,280.05 143.85,282.11 140.95,282.11 138.89,280.05 138.89,277.15 140.95,275.09 143.85,275.09 145.91,277.15" fill="#008080"/>
<polygon points="150.91,245.45 148.85,247.51 145.95,247.51 143.89,245.45 143.89,242.55 145.95,240.49 148.85,240.49 150.91,242.55" fill="#008080"/>
<polygon points="155.91,251.55 153.85,253.61 150.95,253.61 148.89,251.55 148.89,248.65 150.95,246.59 153.85,246.59 155.91,248.65" fill="#008080"/>
<polygon points="160.91,290.55 158.85,292.61 155.95,292.61 153.89,290.55 153.89,287.65 155.95,285.59 158.85,285.59 160.91,287.65" fill="#008080"/>
<polygon points="165.91,303.55 163.85,305.61 160.95,305.61 158.89,303.55 158.89,300.65 160.95,298.59 163.85,298.59 165.91,300.65" fill="#008080"/>
<polygon points="170.91,254.25 168.85,256.31 165.95,256.31 163.89,254.25 163.89,251.35 165.95,249.29 168.85,249.29 170.91,251.35" fill="#008080"/>
<polygon points="175.91,222.75 173.85,224.81 170.95,224.81 168.89,222.75 168.89,219.85 170.95,217.79 173.85,217.79 175.91,219.85" fill="#008080"/>
<polygon points="180.91,280.05 178.85,282.11 175.95,282.11 173.89,280.05 173.89,277.15 175.95,275.09 178.85,275.09 180.91,277.15" fill="#008080"/>
<polygon points="185.91,249.55 183.85,251.61 180.95,251.61 178.89,249.55 178.89,246.65 180.95,244.59 183.85,244.59 185.91,246.65" fill="#008080"/>
<polygon points="190.91,244.05 188.85,246.11 185.95,246.11 183.89,244.05 183.89,241.15 185.95,239.09 188.85,239.09 190.91,241.15" fill="#008080"/>
<polygon points="195.91,213.05 193.85,215.11 190.95,215.11 188.89,213.05 188.89,210.15 190.95,208.09 193.85,208.09 195.91,210.15" fill="#008080"/>
<polygon points="200.91,240.75 198.85,242.81 195.95,242.81 193.89,240.75 193.89,237.85 195.95,235.79 198.85,235.79 200.91,237.85" fill="#008080"/>
<polygon points="205.91,286.95 203.85,289.01 200.95,289.01 198.89,286.95 198.89,284.05 200.95,281.99 203.85,281.99 205.91,284.05" fill="#008080"/>
<polygon points="210.91,217.75 208.85,219.81 205.95,219.81 203.89,217.75 203.89,214.85 205.95,212.79 208.85,212.79 210.91,214.85" fill="#008080"/>
<polygon points="215.91,230.95 213.85,233.01 210.95,233.01 208.89,230.95 208.89,228.05 210.95,225.99 213.85,225.99 215.91,228.05" fill="#008080"/>
<polygon points="220.91,240.75 218.85,242.81 215.95,242.81 213.89,240.75 213.89,237.85 215.95,235.79 218.85,235.79 220.91,237.85" fill="#008080"/>
<polygon points="225.91,257.35 223.85,259.41 220.95,259.41 218.89,257.35 218.89,254.45 220.95,252.39 223.85,252.39 225.91,254.45" fill="#008080"/>
<polygon points="230.91,208.05 228.85,210.11 225.95,210.11 223.89,208.05 223.89,205.15 225.95,203.09 228.85,203.09 230.91,205.15" fill="#008080"/>
<polygon points="235.91,267.55 233.85,269.61 230.95,269.61 228.89,267.55 228.89,264.65 230.95,262.59 233.85,262.59 235.91,264.65" fill="#008080"/>
<polygon points="240.91,265.65 238.85,267.71 235.95,267.71 233.89,265.65 233.89,262.75 235.95,260.69 238.85,260.69 240.91,262.75" fill="#008080"/>
<polygon points="245.91,252.95 243.85,255.01 240.95,255.01 238.89,252.95 238.89,250.05 240.95,247.99 243.85,247.99 245.91,250.05" fill="#008080"/>
<polygon points="250.91,250.45 248.85,252.51 245.95,252.51 243.89,250.45 243.89,247.55 245.95,245.49 248.85,245.49 250.91,247.55" fill="#008080"/>
<polygon points="255.91,248.75 253.85,250.81 250.95,250.81 248.89,248.75 248.89,245.85 250.95,243.79 253.85,243.79 255.91,245.85" fill="#008080"/>
<polygon points="260.91,243.25 258.85,245.31 255.95,245.31 253.89,243.25 253.89,240.35 255.95,238.29 258.85,238.29 260.91,240.35" fill="#008080"/>
<polygon points="265.91,282.85 263.85,284.91 260.95,284.91 258.89,282.85 258.89,279.95 260.95,277.89 263.85,277.89 265.91,279.95" fill="#008080"/>
<polygon points="270.91,265.65 268.85,267.71 265.95,267.71 263.89,265.65 263.89,262.75 265.95,260.69 268.85,260.69 270.91,262.75" fill="#008080"/>
<polygon points="275.91,241.25 273.85,243.31 270.95,243.31 268.89,241.25 268.89,238.35 270.95,236.29 273.85,236.29 275.91,238.35" fill="#008080"/>
<polygon points="280.91,254.55 278.85,256.61 275.95,256.61 273.89,254.55 273.89,251.65 275.95,249.59 278.85,249.59 280.91,251.65" fill="#008080"/>
<polygon points="285.91,256.75 283.85,258.81 280.95,258.81 278.89,256.75 278.89,253.85 280.95,251.79 283.85,251.79 285.91,253.85" fill="#008080"/>
<polygon points="290.91,242.05 288.85,244.11 285.95,244.11 283.89,242.05 283.89,239.15 285.95,237.09 288.85,237.09 290.91,239.15" fill="#008080"/>
<polygon points="295.91,271.75 293.85,273.81 290.95,273.81 288.89,271.75 288.89,268.85 290.95,266.79 293.85,266.79 295.91,268.85" fill="#008080"/>
<polygon points="300.91,316.85 298.85,318.91 295.95,318.91 293.89,316.85 293.89,313.95 295.95,311.89 298.85,311.89 300.91,313.95" fill="#008080"/>
<polygon points="305.91,259.85 303.85,261.91 300.95,261.91 298.89,259.85 298.89,256.95 300.95,254.89 303.85,254.89 305.91,256.95" fill="#008080"/>
<polygon points="310.91,234.35 308.85,236.41 305.95,236.41 303.89,234.35 303.89,231.45 305.95,229.39 308.85,229.39 310.91,231.45" fill="#008080"/>
<polygon points="315.91,240.75 313.85,242.81 310.95,242.81 308.89,240.75 308.89,237.85 310.95,235.79 313.85,235.79 315.91,237.85" fill="#008080"/>
<polygon points="320.91,255.15 318.85,257.21 315.95,257.21 313.89,255.15 313.89,252.25 315.95,250.19 318.85,250.19 320.91,252.25" fill="#008080"/>
<polygon points="325.91,240.75 323.85,242.81 320.95,242.81 318.89,240.75 318.89,237.85 320.95,235.79 323.85,235.79 325.91,237.85" fill="#008080"/>
<polygon points="330.91,243.45 328.85,245.51 325.95,245.51 323.89,243.45 323.89,240.55 325.95,238.49 328.85,238.49 330.91,240.55" fill="#008080"/>
<polygon points="335.91,229.65 333.85,231.71 330.95,231.71 328.89,229.65 328.89,226.75 330.95,224.69 333.85,224.69 335.91,226.75" fill="#008080"/>
<polygon points="340.91,209.45 338.85,211.51 335.95,211.51 333.89,209.45 333.89,206.55 335.95,204.49 338.85,204.49 340.91,206.55" fill="#008080"/>
<polygon points="345.91,250.45 343.85,252.51 340.95,252.51 338.89,250.45 338.89,247.55 340.95,245.49 343.85,245.49 345.91,247.55" fill="#008080"/>
<polygon points="350.91,255.15 348.85,257.21 345.95,257.21 343.89,255.15 343.89,252.25 345.95,250.19 348.85,250.19 350.91,252.25" fill="#008080"/>
<polygon points="355.91,261.25 353.85,263.31 350.95,263.31 348.89,261.25 348.89,258.35 350.95,256.29 353.85,256.29 355.91,258.35" fill="#008080"/>
<polygon points="360.91,270.55 358.85,272.61 355.95,272.61 353.89,270.55 353.89,267.65 355.95,265.59 358.85,265.59 360.91,267.65" fill="#008080"/>
<polygon points="365.91,263.95 363.85,266.01 360.95,266.01 358.89,263.95 358.89,261.05 360.95,258.99 363.85,258.99 365.91,261.05" fill="#008080"/>
<polygon points="369.91,290.25 367.85,292.31 364.95,292.31 362.89,290.25 362.89,287.35 364.95,285.29 367.85,285.29 369.91,287.35" fill="#008080"/>
<polygon points="374.91,279.25 372.85,281.31 369.95,281.31 367.89,279.25 367.89,276.35 369.95,274.29 372.85,274.29 374.91,276.35" fill="#008080"/>
<polygon points="379.91,232.95 377.85,235.01 374.95,235.01 372.89,232.95 372.89,230.05 374.95,227.99 377.85,227.99 379.91,230.05" fill="#008080"/>
<polygon points="384.91,265.65 382.85,267.71 379.95,267.71 377.89,265.65 377.89,262.75 379.95,260.69 382.85,260.69 384.91,262.75" fill="#008080"/>
<polygon points="389.91,277.85 387.85,279.91 384.95,279.91 382.89,277.85 382.89,274.95 384.95,272.89 387.85,272.89 389.91,274.95" fill="#008080"/>
<polygon points="394.91,274.45 392.85,276.51 389.95,276.51 387.89,274.45 387.89,271.55 389.95,269.49 392.85,269.49 394.91,271.55" fill="#008080"/>
<polygon points="399.91,236.25 397.85,238.31 394.95,238.31 392.89,236.25 392.89,233.35 394.95,231.29 397.85,231.29 399.91,233.35" fill="#008080"/>
<polygon points="404.91,266.15 402.85,268.21 399.95,268.21 397.89,266.15 397.89,263.25 399.95,261.19 402.85,261.19 404.91,263.25" fill="#008080"/>
<polygon points="409.91,248.75 407.85,250.81 404.95,250.81 402.89,248.75 402.89,245.85 404.95,243.79 407.85,243.79 409.91,245.85" fill="#008080"/>
<polygon points="414.91,255.95 412.85,258.01 409.95,258.01 407.89,255.95 407.89,253.05 409.95,250.99 412.85,250.99 414.91,253.05" fill="#008080"/>
<polygon points="419.91,225.25 417.85,227.31 414.95,227.31 412.89,225.25 412.89,222.35 414.95,220.29 417.85,220.29 419.91,222.35" fill="#008080"/>
<polygon points="424.91,242.65 422.85,244.71 419.95,244.71 417.89,242.65 417.89,239.75 419.95,237.69 422.85,237.69 424.91,239.75" fill="#008080"/>
<polygon points="429.91,228.25 427.85,230.31 424.95,230.31 422.89,228.25 422.89,225.35 424.95,223.29 427.85,223.29 429.91,225.35" fill="#008080"/>
<polygon points="434.91,234.65 432.85,236.71 429.95,236.71 427.89,234.65 427.89,231.75 429.95,229.69 432.85,229.69 434.91,231.75" fill="#008080"/>
<polygon points="439.91,224.15 437.85,226.21 434.95,226.21 432.89,224.15 432.89,221.25 434.95,219.19 437.85,219.19 439.91,221.25" fill="#008080"/>
<polygon points="444.91,234.35 442.85,236.41 439.95,236.41 437.89,234.35 437.89,231.45 439.95,229.39 442.85,229.39 444.91,231.45" fill="#008080"/>
<polygon points="449.91,232.45 447.85,234.51 444.95,234.51 442.89,232.45 442.89,229.55 444.95,227.49 447.85,227.49 449.91,229.55" fill="#008080"/>
<polygon points="454.91,239.05 452.85,241.11 449.95,241.11 447.89,239.05 447.89,236.15 449.95,234.09 452.85,234.09 454.91,236.15" fill="#008080"/>
<polygon points="459.91,233.55 457.85,235.61 454.95,235.61 452.89,233.55 452.89,230.65 454.95,228.59 457.85,228.59 459.91,230.65" fill="#008080"/>
<polygon points="464.91,227.45 462.85,229.51 459.95,229.51 457.89,227.45 457.89,224.55 459.95,222.49 462.85,222.49 464.91,224.55" fill="#008080"/>
<polygon points="469.91,228.85 467.85,230.91 464.95,230.91 462.89,228.85 462.89,225.95 464.95,223.89 467.85,223.89 469.91,225.95" fill="#008080"/>
<polygon points="474.91,239.05 472.85,241.11 469.95,241.11 467.89,239.05 467.89,236.15 469.95,234.09 472.85,234.09 474.91,236.15" fill="#008080"/>
<polygon points="479.91,245.45 477.85,247.51 474.95,247.51 472.89,245.45 472.89,242.55 474.95,240.49 477.85,240.49 479.91,242.55" fill="#008080"/>
<polygon points="484.91,245.45 482.85,247.51 479.95,247.51 477.89,245.45 477.89,242.55 479.95,240.49 482.85,240.49 484.91,242.55" fill="#008080"/>
<polygon points="489.91,225.45 487.85,227.51 484.95,227.51 482.89,225.45 482.89,222.55 484.95,220.49 487.85,220.49 489.91,222.55" fill="#008080"/>
<polygon points="494.91,232.95 492.85,235.01 489.95,235.01 487.89,232.95 487.89,230.05 489.95,227.99 492.85,227.99 494.91,230.05" fill="#008080"/>
<polygon points="499.91,267.55 497.85,269.61 494.95,269.61 492.89,267.55 492.89,264.65 494.95,262.59 497.85,262.59 499.91,264.65" fill="#008080"/>
<polygon points="504.91,257.85 502.85,259.91 499.95,259.91 497.89,257.85 497.89,254.95 499.95,252.89 502.85,252.89 504.91,254.95" fill="#008080"/>
<polygon points="509.91,268.95 507.85,271.01 504.95,271.01 502.89,268.95 502.89,266.05 504.95,263.99 507.85,263.99 509.91,266.05" fill="#008080"/>
<polygon points="514.91,259.25 512.85,261.31 509.95,261.31 507.89,259.25 507.89,256.35 509.95,254.29 512.85,254.29 514.91,256.35" fill="#008080"/>
<polygon points="519.91,269.75 517.85,271.81 514.95,271.81 512.89,269.75 512.89,266.85 514.95,264.79 517.85,264.79 519.91,266.85" fill="#008080"/>
<polygon points="524.91,256.45 522.85,258.51 519.95,258.51 517.89,256.45 517.89,253.55 519.95,251.49 522.85,251.49 524.91,253.55" fill="#008080"/>
<polygon points="529.91,263.95 527.85,266.01 524.95,266.01 522.89,263.95 522.89,261.05 524.95,258.99 527.85,258.99 529.91,261.05" fill="#008080"/>
<polygon points="534.91,268.95 532.85,271.01 529.95,271.01 527.89,268.95 527.89,266.05 529.95,263.99 532.85,263.99 534.91,266.05" fill="#008080"/>
<polygon points="539.91,296.65 537.85,298.71 534.95,298.71 532.89,296.65 532.89,293.75 534.95,291.69 537.85,291.69 539.91,293.75" fill="#008080"/>
<polygon points="544.91,262.55 542.85,264.61 539.95,264.61 537.89,262.55 537.89,259.65 539.95,257.59 542.85,257.59 544.91,259.65" fill="#008080"/>
<polygon points="549.91,220.55 547.85,222.61 544.95,222.61 542.89,220.55 542.89,217.65 544.95,215.59 547.85,215.59 549.91,217.65" fill="#008080"/>
<polygon points="554.91,239.85 552.85,241.91 549.95,241.91 547.89,239.85 547.89,236.95 549.95,234.89 552.85,234.89 554.91,236.95" fill="#008080"/>
<polygon points="559.91,232.15 557.85,234.21 554.95,234.21 552.89,232.15 552.89,229.25 554.95,227.19 557.85,227.19 559.91,229.25" fill="#008080"/>
<polygon points="564.91,240.45 562.85,242.51 559.95,242.51 557.89,240.45 557.89,237.55 559.95,235.49 562.85,235.49 564.91,237.55" fill="#008080"/>
<polygon points="569.91,244.55 567.85,246.61 564.95,246.61 562.89,244.55 562.89,241.65 564.95,239.59 567.85,239.59 569.91,241.65" fill="#008080"/>
<polygon points="574.91,276.75 572.85,278.81 569.95,278.81 567.89,276.75 567.89,273.85 569.95,271.79 572.85,271.79 574.91,273.85" fill="#008080"/>
<polygon points="579.91,265.65 577.85,267.71 574.95,267.71 572.89,265.65 572.89,262.75 574.95,260.69 577.85,260.69 579.91,262.75" fill="#008080"/>
<polygon points="584.91,259.95 582.85,262.01 579.95,262.01 577.89,259.95 577.89,257.05 579.95,254.99 582.85,254.99 584.91,257.05" fill="#008080"/>
<polygon points="589.91,248.15 587.85,250.21 584.95,250.21 582.89,248.15 582.89,245.25 584.95,243.19 587.85,243.19 589.91,245.25" fill="#008080"/>
<polygon points="594.91,255.15 592.85,257.21 589.95,257.21 587.89,255.15 587.89,252.25 589.95,250.19 592.85,250.19 594.91,252.25" fill="#008080"/>
<polygon points="599.91,262.55 597.85,264.61 594.95,264.61 592.89,262.55 592.89,259.65 594.95,257.59 597.85,257.59 599.91,259.65" fill="#008080"/>
<polygon points="604.91,249.05 602.85,251.11 599.95,251.11 597.89,249.05 597.89,246.15 599.95,244.09 602.85,244.09 604.91,246.15" fill="#008080"/>
<polygon points="609.91,239.85 607.85,241.91 604.95,241.91 602.89,239.85 602.89,236.95 604.95,234.89 607.85,234.89 609.91,236.95" fill="#008080"/>
<polygon points="614.91,246.25 612.85,248.31 609.95,248.31 607.89,246.25 607.89,243.35 609.95,241.29 612.85,241.29 614.91,243.35" fill="#008080"/>
<polygon points="619.91,262.55 617.85,264.61 614.95,264.61 612.89,262.55 612.89,259.65 614.95,257.59 617.85,257.59 619.91,259.65" fill="#008080"/>
<polygon points="624.91,261.45 622.85,263.51 619.95,263.51 617.89,261.45 617.89,258.55 619.95,256.49 622.85,256.49 624.91,258.55" fill="#008080"/>
<polygon points="629.91,238.55 627.85,240.61 624.95,240.61 622.89,238.55 622.89,235.65 624.95,233.59 627.85,233.59 629.91,235.65" fill="#008080"/>
<polygon points="634.91,240.75 632.85,242.81 629.95,242.81 627.89,240.75 627.89,237.85 629.95,235.79 632.85,235.79 634.91,237.85" fill="#008080"/>
<polygon points="639.91,256.45 637.85,258.51 634.95,258.51 632.89,256.45 632.89,253.55 634.95,251.49 637.85,251.49 639.91,253.55" fill="#008080"/>
<polygon points="644.91,258.75 642.85,260.81 639.95,260.81 637.89,258.75 637.89,255.85 639.95,253.79 642.85,253.79 644.91,255.85" fill="#008080"/>
<polygon points="649.91,231.55 647.85,233.61 644.95,233.61 642.89,231.55 642.89,228.65 644.95,226.59 647.85,226.59 649.91,228.65" fill="#008080"/>
<polygon points="654.91,248.75 652.85,250.81 649.95,250.81 647.89,248.75 647.89,245.85 649.95,243.79 652.85,243.79 654.91,245.85" fill="#008080"/>
<circle cx="58.40" cy="309.40" r="2.6" fill="none" stroke="#d9005b" stroke-width="1.85"/>
<path d="M53.40,312.60H63.40M58.40,307.60V317.60M55.20,309.40L61.60,315.80M55.20,315.80L61.60,309.40" stroke="#d9005b" stroke-width="2.05" fill="none"/>
<circle cx="63.40" cy="327.10" r="2.6" fill="none" stroke="#d9005b" stroke-width="1.85"/>
<path d="M58.40,329.80H68.40M63.40,324.80V334.80M60.20,326.60L66.60,333.00M60.20,333.00L66.60,326.60" stroke="#d9005b" stroke-width="2.05" fill="none"/>
<circle cx="68.40" cy="331.90" r="2.6" fill="none" stroke="#d9005b" stroke-width="1.85"/>
<path d="M63.40,334.60H73.40M68.40,329.60V339.60M65.20,331.40L71.60,337.80M65.20,337.80L71.60,331.40" stroke="#d9005b" stroke-width="2.05" fill="none"/>
<circle cx="73.40" cy="314.90" r="2.6" fill="none" stroke="#d9005b" stroke-width="1.85"/>
<path d="M68.40,317.60H78.40M73.40,312.60V322.60M70.20,314.40L76.60,320.80M70.20,320.80L76.60,314.40" stroke="#d9005b" stroke-width="2.05" fill="none"/>
<circle cx="78.40" cy="337.80" r="2.6" fill="none" stroke="#d9005b" stroke-width="1.85"/>
<path d="M73.40,340.20H83.40M78.40,335.20V345.20M75.20,337.00L81.60,343.40M75.20,343.40L81.60,337.00" stroke="#d9005b" stroke-width="2.05" fill="none"/>
<circle cx="82.40" cy="353.10" r="2.6" fill="none" stroke="#d9005b" stroke-width="1.85"/>
<path d="M77.40,356.30H87.40M82.40,351.30V361.30M79.20,353.10L85.60,359.50M79.20,359.50L85.60,353.10" stroke="#d9005b" stroke-width="2.05" fill="none"/>
<circle cx="87.40" cy="319.10" r="2.6" fill="none" stroke="#d9005b" stroke-width="1.85"/>
<path d="M82.40,330.90H92.40M87.40,325.90V335.90M84.20,327.70L90.60,334.10M84.20,334.10L90.60,327.70" stroke="#d9005b" stroke-width="2.05" fill="none"/>
<circle cx="92.40" cy="328.20" r="2.6" fill="none" stroke="#d9005b" stroke-width="1.85"/>
<path d="M87.40,333.00H97.40M92.40,328.00V338.00M89.20,329.80L95.60,336.20M89.20,336.20L95.60,329.80" stroke="#d9005b" stroke-width="2.05" fill="none"/>
<circle cx="97.40" cy="366.20" r="2.6" fill="none" stroke="#d9005b" stroke-width="1.85"/>
<path d="M92.40,369.10H102.40M97.40,364.10V374.10M94.20,365.90L100.60,372.30M94.20,372.30L100.60,365.90" stroke="#d9005b" stroke-width="2.05" fill="none"/>
<circle cx="102.40" cy="367.40" r="2.6" fill="none" stroke="#d9005b" stroke-width="1.85"/>
<path d="M97.40,373.40H107.40M102.40,368.40V378.40M99.20,370.20L105.60,376.60M99.20,376.60L105.60,370.20" stroke="#d9005b" stroke-width="2.05" fill="none"/>
<circle cx="107.40" cy="370.90" r="2.6" fill="none" stroke="#d9005b" stroke-width="1.85"/>
<path d="M102.40,373.80H112.40M107.40,368.80V378.80M104.20,370.60L110.60,377.00M104.20,377.00L110.60,370.60" stroke="#d9005b" stroke-width="2.05" fill="none"/>
<circle cx="112.40" cy="371.30" r="2.6" fill="none" stroke="#d9005b" stroke-width="1.85"/>
<path d="M107.40,373.40H117.40M112.40,368.40V378.40M109.20,370.20L115.60,376.60M109.20,376.60L115.60,370.20" stroke="#d9005b" stroke-width="2.05" fill="none"/>
<circle cx="117.40" cy="387.00" r="2.6" fill="none" stroke="#d9005b" stroke-width="1.85"/>
<path d="M112.40,389.50H122.40M117.40,384.50V394.50M114.20,386.30L120.60,392.70M114.20,392.70L120.60,386.30" stroke="#d9005b" stroke-width="2.05" fill="none"/>
<circle cx="122.40" cy="381.50" r="2.6" fill="none" stroke="#d9005b" stroke-width="1.85"/>
<path d="M117.40,384.40H127.40M122.40,379.40V389.40M119.20,381.20L125.60,387.60M119.20,387.60L125.60,381.20" stroke="#d9005b" stroke-width="2.05" fill="none"/>
<circle cx="127.40" cy="374.20" r="2.6" fill="none" stroke="#d9005b" stroke-width="1.85"/>
<path d="M122.40,377.00H132.40M127.40,372.00V382.00M124.20,373.80L130.60,380.20M124.20,380.20L130.60,373.80" stroke="#d9005b" stroke-width="2.05" fill="none"/>
<circle cx="132.40" cy="374.70" r="2.6" fill="none" stroke="#d9005b" stroke-width="1.85"/>
<path d="M127.40,377.30H137.40M132.40,372.30V382.30M129.20,374.10L135.60,380.50M129.20,380.50L135.60,374.10" stroke="#d9005b" stroke-width="2.05" fill="none"/>
<circle cx="137.40" cy="383.40" r="2.6" fill="none" stroke="#d9005b" stroke-width="1.85"/>
<path d="M132.40,386.00H142.40M137.40,381.00V391.00M134.20,382.80L140.60,389.20M134.20,389.20L140.60,382.80" stroke="#d9005b" stroke-width="2.05" fill="none"/>
<circle cx="142.40" cy="380.60" r="2.6" fill="none" stroke="#d9005b" stroke-width="1.85"/>
<path d="M137.40,382.50H147.40M142.40,377.50V387.50M139.20,379.30L145.60,385.70M139.20,385.70L145.60,379.30" stroke="#d9005b" stroke-width="2.05" fill="none"/>
<circle cx="147.40" cy="372.60" r="2.6" fill="none" stroke="#d9005b" stroke-width="1.85"/>
<path d="M142.40,374.00H152.40M147.40,369.00V379.00M144.20,370.80L150.60,377.20M144.20,377.20L150.60,370.80" stroke="#d9005b" stroke-width="2.05" fill="none"/>
<circle cx="152.40" cy="367.00" r="2.6" fill="none" stroke="#d9005b" stroke-width="1.85"/>
<path d="M147.40,367.00H157.40M152.40,362.00V372.00M149.20,363.80L155.60,370.20M149.20,370.20L155.60,363.80" stroke="#d9005b" stroke-width="2.05" fill="none"/>
<circle cx="157.40" cy="373.40" r="2.6" fill="none" stroke="#d9005b" stroke-width="1.85"/>
<path d="M152.40,373.40H162.40M157.40,368.40V378.40M154.20,370.20L160.60,376.60M154.20,376.60L160.60,370.20" stroke="#d9005b" stroke-width="2.05" fill="none"/>
<circle cx="162.40" cy="364.90" r="2.6" fill="none" stroke="#d9005b" stroke-width="1.85"/>
<path d="M157.40,364.90H167.40M162.40,359.90V369.90M159.20,361.70L165.60,368.10M159.20,368.10L165.60,361.70" stroke="#d9005b" stroke-width="2.05" fill="none"/>
<circle cx="167.40" cy="368.00" r="2.6" fill="none" stroke="#d9005b" stroke-width="1.85"/>
<path d="M162.40,370.60H172.40M167.40,365.60V375.60M164.20,367.40L170.60,373.80M164.20,373.80L170.60,367.40" stroke="#d9005b" stroke-width="2.05" fill="none"/>
<circle cx="172.40" cy="298.50" r="2.6" fill="none" stroke="#d9005b" stroke-width="1.85"/>
<path d="M167.40,301.70H177.40M172.40,296.70V306.70M169.20,298.50L175.60,304.90M169.20,304.90L175.60,298.50" stroke="#d9005b" stroke-width="2.05" fill="none"/>
<circle cx="177.40" cy="360.25" r="2.6" fill="none" stroke="#d9005b" stroke-width="1.85"/>
<path d="M172.40,360.25H182.40M177.40,355.25V365.25M174.20,357.05L180.60,363.45M174.20,363.45L180.60,357.05" stroke="#d9005b" stroke-width="2.05" fill="none"/>
<circle cx="182.40" cy="354.75" r="2.6" fill="none" stroke="#d9005b" stroke-width="1.85"/>
<path d="M177.40,354.75H187.40M182.40,349.75V359.75M179.20,351.55L185.60,357.95M179.20,357.95L185.60,351.55" stroke="#d9005b" stroke-width="2.05" fill="none"/>
<circle cx="187.40" cy="329.10" r="2.6" fill="none" stroke="#d9005b" stroke-width="1.85"/>
<path d="M182.40,332.30H192.40M187.40,327.30V337.30M184.20,329.10L190.60,335.50M184.20,335.50L190.60,329.10" stroke="#d9005b" stroke-width="2.05" fill="none"/>
<circle cx="192.40" cy="306.80" r="2.6" fill="none" stroke="#d9005b" stroke-width="1.85"/>
<path d="M187.40,310.00H197.40M192.40,305.00V315.00M189.20,306.80L195.60,313.20M189.20,313.20L195.60,306.80" stroke="#d9005b" stroke-width="2.05" fill="none"/>
<circle cx="197.40" cy="363.40" r="2.6" fill="none" stroke="#d9005b" stroke-width="1.85"/>
<path d="M192.40,366.10H202.40M197.40,361.10V371.10M194.20,362.90L200.60,369.30M194.20,369.30L200.60,362.90" stroke="#d9005b" stroke-width="2.05" fill="none"/>
<circle cx="202.40" cy="365.40" r="2.6" fill="none" stroke="#d9005b" stroke-width="1.85"/>
<path d="M197.40,368.90H207.40M202.40,363.90V373.90M199.20,365.70L205.60,372.10M199.20,372.10L205.60,365.70" stroke="#d9005b" stroke-width="2.05" fill="none"/>
<circle cx="207.40" cy="350.90" r="2.6" fill="none" stroke="#d9005b" stroke-width="1.85"/>
<path d="M202.40,353.70H212.40M207.40,348.70V358.70M204.20,350.50L210.60,356.90M204.20,356.90L210.60,350.50" stroke="#d9005b" stroke-width="2.05" fill="none"/>
<circle cx="212.40" cy="317.65" r="2.6" fill="none" stroke="#d9005b" stroke-width="1.85"/>
<path d="M207.40,317.65H217.40M212.40,312.65V322.65M209.20,314.45L215.60,320.85M209.20,320.85L215.60,314.45" stroke="#d9005b" stroke-width="2.05" fill="none"/>
<circle cx="217.40" cy="310.65" r="2.6" fill="none" stroke="#d9005b" stroke-width="1.85"/>
<path d="M212.40,310.65H222.40M217.40,305.65V315.65M214.20,307.45L220.60,313.85M214.20,313.85L220.60,307.45" stroke="#d9005b" stroke-width="2.05" fill="none"/>
<circle cx="222.40" cy="349.50" r="2.6" fill="none" stroke="#d9005b" stroke-width="1.85"/>
<path d="M217.40,351.90H227.40M222.40,346.90V356.90M219.20,348.70L225.60,355.10M219.20,355.10L225.60,348.70" stroke="#d9005b" stroke-width="2.05" fill="none"/>
<circle cx="227.40" cy="350.90" r="2.6" fill="none" stroke="#d9005b" stroke-width="1.85"/>
<path d="M222.40,352.70H232.40M227.40,347.70V357.70M224.20,349.50L230.60,355.90M224.20,355.90L230.60,349.50" stroke="#d9005b" stroke-width="2.05" fill="none"/>
<circle cx="232.40" cy="333.95" r="2.6" fill="none" stroke="#d9005b" stroke-width="1.85"/>
<path d="M227.40,333.95H237.40M232.40,328.95V338.95M229.20,330.75L235.60,337.15M229.20,337.15L235.60,330.75" stroke="#d9005b" stroke-width="2.05" fill="none"/>
<circle cx="237.40" cy="373.00" r="2.6" fill="none" stroke="#d9005b" stroke-width="1.85"/>
<path d="M232.40,375.10H242.40M237.40,370.10V380.10M234.20,371.90L240.60,378.30M234.20,378.30L240.60,371.90" stroke="#d9005b" stroke-width="2.05" fill="none"/>
<circle cx="242.40" cy="366.80" r="2.6" fill="none" stroke="#d9005b" stroke-width="1.85"/>
<path d="M237.40,368.90H247.40M242.40,363.90V373.90M239.20,365.70L245.60,372.10M239.20,372.10L245.60,365.70" stroke="#d9005b" stroke-width="2.05" fill="none"/>
<circle cx="247.40" cy="386.20" r="2.6" fill="none" stroke="#d9005b" stroke-width="1.85"/>
<path d="M242.40,387.60H252.40M247.40,382.60V392.60M244.20,384.40L250.60,390.80M244.20,390.80L250.60,384.40" stroke="#d9005b" stroke-width="2.05" fill="none"/>
<circle cx="252.40" cy="346.80" r="2.6" fill="none" stroke="#d9005b" stroke-width="1.85"/>
<path d="M247.40,349.50H257.40M252.40,344.50V354.50M249.20,346.30L255.60,352.70M249.20,352.70L255.60,346.30" stroke="#d9005b" stroke-width="2.05" fill="none"/>
<circle cx="257.40" cy="364.00" r="2.6" fill="none" stroke="#d9005b" stroke-width="1.85"/>
<path d="M252.40,366.10H262.40M257.40,361.10V371.10M254.20,362.90L260.60,369.30M254.20,369.30L260.60,362.90" stroke="#d9005b" stroke-width="2.05" fill="none"/>
<circle cx="262.40" cy="371.70" r="2.6" fill="none" stroke="#d9005b" stroke-width="1.85"/>
<path d="M257.40,373.80H267.40M262.40,368.80V378.80M259.20,370.60L265.60,377.00M259.20,377.00L265.60,370.60" stroke="#d9005b" stroke-width="2.05" fill="none"/>
<circle cx="267.40" cy="379.70" r="2.6" fill="none" stroke="#d9005b" stroke-width="1.85"/>
<path d="M262.40,381.20H272.40M267.40,376.20V386.20M264.20,378.00L270.60,384.40M264.20,384.40L270.60,378.00" stroke="#d9005b" stroke-width="2.05" fill="none"/>
<circle cx="272.40" cy="379.60" r="2.6" fill="none" stroke="#d9005b" stroke-width="1.85"/>
<path d="M267.40,381.40H277.40M272.40,376.40V386.40M269.20,378.20L275.60,384.60M269.20,384.60L275.60,378.20" stroke="#d9005b" stroke-width="2.05" fill="none"/>
<circle cx="277.40" cy="367.50" r="2.6" fill="none" stroke="#d9005b" stroke-width="1.85"/>
<path d="M272.40,368.90H282.40M277.40,363.90V373.90M274.20,365.70L280.60,372.10M274.20,372.10L280.60,365.70" stroke="#d9005b" stroke-width="2.05" fill="none"/>
<circle cx="282.40" cy="376.50" r="2.6" fill="none" stroke="#d9005b" stroke-width="1.85"/>
<path d="M277.40,380.00H287.40M282.40,375.00V385.00M279.20,376.80L285.60,383.20M279.20,383.20L285.60,376.80" stroke="#d9005b" stroke-width="2.05" fill="none"/>
<circle cx="287.40" cy="376.50" r="2.6" fill="none" stroke="#d9005b" stroke-width="1.85"/>
<path d="M282.40,379.30H292.40M287.40,374.30V384.30M284.20,376.10L290.60,382.50M284.20,382.50L290.60,376.10" stroke="#d9005b" stroke-width="2.05" fill="none"/>
<circle cx="292.40" cy="376.50" r="2.6" fill="none" stroke="#d9005b" stroke-width="1.85"/>
<path d="M287.40,380.00H297.40M292.40,375.00V385.00M289.20,376.80L295.60,383.20M289.20,383.20L295.60,376.80" stroke="#d9005b" stroke-width="2.05" fill="none"/>
<circle cx="297.40" cy="362.00" r="2.6" fill="none" stroke="#d9005b" stroke-width="1.85"/>
<path d="M292.40,363.40H302.40M297.40,358.40V368.40M294.20,360.20L300.60,366.60M294.20,366.60L300.60,360.20" stroke="#d9005b" stroke-width="2.05" fill="none"/>
<circle cx="302.40" cy="356.50" r="2.6" fill="none" stroke="#d9005b" stroke-width="1.85"/>
<path d="M297.40,359.90H307.40M302.40,354.90V364.90M299.20,356.70L305.60,363.10M299.20,363.10L305.60,356.70" stroke="#d9005b" stroke-width="2.05" fill="none"/>
<circle cx="307.40" cy="364.80" r="2.6" fill="none" stroke="#d9005b" stroke-width="1.85"/>
<path d="M302.40,371.00H312.40M307.40,366.00V376.00M304.20,367.80L310.60,374.20M304.20,374.20L310.60,367.80" stroke="#d9005b" stroke-width="2.05" fill="none"/>
<circle cx="312.40" cy="327.20" r="2.6" fill="none" stroke="#d9005b" stroke-width="1.85"/>
<path d="M307.40,327.20H317.40M312.40,322.20V332.20M309.20,324.00L315.60,330.40M309.20,330.40L315.60,324.00" stroke="#d9005b" stroke-width="2.05" fill="none"/>
<circle cx="317.40" cy="322.05" r="2.6" fill="none" stroke="#d9005b" stroke-width="1.85"/>
<path d="M312.40,322.05H322.40M317.40,317.05V327.05M314.20,318.85L320.60,325.25M314.20,325.25L320.60,318.85" stroke="#d9005b" stroke-width="2.05" fill="none"/>
<circle cx="322.40" cy="344.70" r="2.6" fill="none" stroke="#d9005b" stroke-width="1.85"/>
<path d="M317.40,344.70H327.40M322.40,339.70V349.70M319.20,341.50L325.60,347.90M319.20,347.90L325.60,341.50" stroke="#d9005b" stroke-width="2.05" fill="none"/>
<circle cx="327.40" cy="368.90" r="2.6" fill="none" stroke="#d9005b" stroke-width="1.85"/>
<path d="M322.40,368.90H332.40M327.40,363.90V373.90M324.20,365.70L330.60,372.10M324.20,372.10L330.60,365.70" stroke="#d9005b" stroke-width="2.05" fill="none"/>
<circle cx="332.40" cy="376.50" r="2.6" fill="none" stroke="#d9005b" stroke-width="1.85"/>
<path d="M327.40,376.50H337.40M332.40,371.50V381.50M329.20,373.30L335.60,379.70M329.20,379.70L335.60,373.30" stroke="#d9005b" stroke-width="2.05" fill="none"/>
<circle cx="337.40" cy="352.30" r="2.6" fill="none" stroke="#d9005b" stroke-width="1.85"/>
<path d="M332.40,352.30H342.40M337.40,347.30V357.30M334.20,349.10L340.60,355.50M334.20,355.50L340.60,349.10" stroke="#d9005b" stroke-width="2.05" fill="none"/>
<circle cx="342.40" cy="364.70" r="2.6" fill="none" stroke="#d9005b" stroke-width="1.85"/>
<path d="M337.40,364.70H347.40M342.40,359.70V369.70M339.20,361.50L345.60,367.90M339.20,367.90L345.60,361.50" stroke="#d9005b" stroke-width="2.05" fill="none"/>
<circle cx="347.40" cy="367.50" r="2.6" fill="none" stroke="#d9005b" stroke-width="1.85"/>
<path d="M342.40,367.50H352.40M347.40,362.50V372.50M344.20,364.30L350.60,370.70M344.20,370.70L350.60,364.30" stroke="#d9005b" stroke-width="2.05" fill="none"/>
<circle cx="352.40" cy="379.10" r="2.6" fill="none" stroke="#d9005b" stroke-width="1.85"/>
<path d="M347.40,379.10H357.40M352.40,374.10V384.10M349.20,375.90L355.60,382.30M349.20,382.30L355.60,375.90" stroke="#d9005b" stroke-width="2.05" fill="none"/>
<circle cx="357.40" cy="352.10" r="2.6" fill="none" stroke="#d9005b" stroke-width="1.85"/>
<path d="M352.40,353.50H362.40M357.40,348.50V358.50M354.20,350.30L360.60,356.70M354.20,356.70L360.60,350.30" stroke="#d9005b" stroke-width="2.05" fill="none"/>
<circle cx="362.40" cy="339.70" r="2.6" fill="none" stroke="#d9005b" stroke-width="1.85"/>
<path d="M357.40,339.70H367.40M362.40,334.70V344.70M359.20,336.50L365.60,342.90M359.20,342.90L365.60,336.50" stroke="#d9005b" stroke-width="2.05" fill="none"/>
<circle cx="366.40" cy="358.40" r="2.6" fill="none" stroke="#d9005b" stroke-width="1.85"/>
<path d="M361.40,358.40H371.40M366.40,353.40V363.40M363.20,355.20L369.60,361.60M363.20,361.60L369.60,355.20" stroke="#d9005b" stroke-width="2.05" fill="none"/>
<circle cx="371.40" cy="369.20" r="2.6" fill="none" stroke="#d9005b" stroke-width="1.85"/>
<path d="M366.40,371.50H376.40M371.40,366.50V376.50M368.20,368.30L374.60,374.70M368.20,374.70L374.60,368.30" stroke="#d9005b" stroke-width="2.05" fill="none"/>
<circle cx="376.40" cy="344.80" r="2.6" fill="none" stroke="#d9005b" stroke-width="1.85"/>
<path d="M371.40,347.20H381.40M376.40,342.20V352.20M373.20,344.00L379.60,350.40M373.20,350.40L379.60,344.00" stroke="#d9005b" stroke-width="2.05" fill="none"/>
<circle cx="381.40" cy="344.80" r="2.6" fill="none" stroke="#d9005b" stroke-width="1.85"/>
<path d="M376.40,347.20H386.40M381.40,342.20V352.20M378.20,344.00L384.60,350.40M378.20,350.40L384.60,344.00" stroke="#d9005b" stroke-width="2.05" fill="none"/>
<circle cx="386.40" cy="362.10" r="2.6" fill="none" stroke="#d9005b" stroke-width="1.85"/>
<path d="M381.40,362.10H391.40M386.40,357.10V367.10M383.20,358.90L389.60,365.30M383.20,365.30L389.60,358.90" stroke="#d9005b" stroke-width="2.05" fill="none"/>
<circle cx="391.40" cy="358.70" r="2.6" fill="none" stroke="#d9005b" stroke-width="1.85"/>
<path d="M386.40,358.70H396.40M391.40,353.70V363.70M388.20,355.50L394.60,361.90M388.20,361.90L394.60,355.50" stroke="#d9005b" stroke-width="2.05" fill="none"/>
<circle cx="396.40" cy="355.10" r="2.6" fill="none" stroke="#d9005b" stroke-width="1.85"/>
<path d="M391.40,355.10H401.40M396.40,350.10V360.10M393.20,351.90L399.60,358.30M393.20,358.30L399.60,351.90" stroke="#d9005b" stroke-width="2.05" fill="none"/>
<circle cx="401.40" cy="348.70" r="2.6" fill="none" stroke="#d9005b" stroke-width="1.85"/>
<path d="M396.40,351.50H406.40M401.40,346.50V356.50M398.20,348.30L404.60,354.70M398.20,354.70L404.60,348.30" stroke="#d9005b" stroke-width="2.05" fill="none"/>
<circle cx="406.40" cy="355.60" r="2.6" fill="none" stroke="#d9005b" stroke-width="1.85"/>
<path d="M401.40,358.00H411.40M406.40,353.00V363.00M403.20,354.80L409.60,361.20M403.20,361.20L409.60,354.80" stroke="#d9005b" stroke-width="2.05" fill="none"/>
<circle cx="411.40" cy="346.30" r="2.6" fill="none" stroke="#d9005b" stroke-width="1.85"/>
<path d="M406.40,350.60H416.40M411.40,345.60V355.60M408.20,347.40L414.60,353.80M408.20,353.80L414.60,347.40" stroke="#d9005b" stroke-width="2.05" fill="none"/>
<circle cx="416.40" cy="343.40" r="2.6" fill="none" stroke="#d9005b" stroke-width="1.85"/>
<path d="M411.40,346.70H421.40M416.40,341.70V351.70M413.20,343.50L419.60,349.90M413.20,349.90L419.60,343.50" stroke="#d9005b" stroke-width="2.05" fill="none"/>
<circle cx="421.40" cy="333.60" r="2.6" fill="none" stroke="#d9005b" stroke-width="1.85"/>
<path d="M416.40,336.30H426.40M421.40,331.30V341.30M418.20,333.10L424.60,339.50M418.20,339.50L424.60,333.10" stroke="#d9005b" stroke-width="2.05" fill="none"/>
<circle cx="426.40" cy="289.40" r="2.6" fill="none" stroke="#d9005b" stroke-width="1.85"/>
<path d="M421.40,292.10H431.40M426.40,287.10V297.10M423.20,288.90L429.60,295.30M423.20,295.30L429.60,288.90" stroke="#d9005b" stroke-width="2.05" fill="none"/>
<circle cx="431.40" cy="353.40" r="2.6" fill="none" stroke="#d9005b" stroke-width="1.85"/>
<path d="M426.40,355.40H436.40M431.40,350.40V360.40M428.20,352.20L434.60,358.60M428.20,358.60L434.60,352.20" stroke="#d9005b" stroke-width="2.05" fill="none"/>
<circle cx="436.40" cy="353.40" r="2.6" fill="none" stroke="#d9005b" stroke-width="1.85"/>
<path d="M431.40,355.40H441.40M436.40,350.40V360.40M433.20,352.20L439.60,358.60M433.20,358.60L439.60,352.20" stroke="#d9005b" stroke-width="2.05" fill="none"/>
<circle cx="441.40" cy="324.70" r="2.6" fill="none" stroke="#d9005b" stroke-width="1.85"/>
<path d="M436.40,327.40H446.40M441.40,322.40V332.40M438.20,324.20L444.60,330.60M438.20,330.60L444.60,324.20" stroke="#d9005b" stroke-width="2.05" fill="none"/>
<circle cx="446.40" cy="276.90" r="2.6" fill="none" stroke="#d9005b" stroke-width="1.85"/>
<path d="M441.40,276.90H451.40M446.40,271.90V281.90M443.20,273.70L449.60,280.10M443.20,280.10L449.60,273.70" stroke="#d9005b" stroke-width="2.05" fill="none"/>
<circle cx="451.40" cy="301.60" r="2.6" fill="none" stroke="#d9005b" stroke-width="1.85"/>
<path d="M446.40,303.90H456.40M451.40,298.90V308.90M448.20,300.70L454.60,307.10M448.20,307.10L454.60,300.70" stroke="#d9005b" stroke-width="2.05" fill="none"/>
<circle cx="456.40" cy="335.40" r="2.6" fill="none" stroke="#d9005b" stroke-width="1.85"/>
<path d="M451.40,338.10H461.40M456.40,333.10V343.10M453.20,334.90L459.60,341.30M453.20,341.30L459.60,334.90" stroke="#d9005b" stroke-width="2.05" fill="none"/>
<circle cx="461.40" cy="335.40" r="2.6" fill="none" stroke="#d9005b" stroke-width="1.85"/>
<path d="M456.40,337.50H466.40M461.40,332.50V342.50M458.20,334.30L464.60,340.70M458.20,340.70L464.60,334.30" stroke="#d9005b" stroke-width="2.05" fill="none"/>
<circle cx="466.40" cy="326.20" r="2.6" fill="none" stroke="#d9005b" stroke-width="1.85"/>
<path d="M461.40,328.60H471.40M466.40,323.60V333.60M463.20,325.40L469.60,331.80M463.20,331.80L469.60,325.40" stroke="#d9005b" stroke-width="2.05" fill="none"/>
<circle cx="471.40" cy="336.80" r="2.6" fill="none" stroke="#d9005b" stroke-width="1.85"/>
<path d="M466.40,339.50H476.40M471.40,334.50V344.50M468.20,336.30L474.60,342.70M468.20,342.70L474.60,336.30" stroke="#d9005b" stroke-width="2.05" fill="none"/>
<circle cx="476.40" cy="345.80" r="2.6" fill="none" stroke="#d9005b" stroke-width="1.85"/>
<path d="M471.40,345.80H481.40M476.40,340.80V350.80M473.20,342.60L479.60,349.00M473.20,349.00L479.60,342.60" stroke="#d9005b" stroke-width="2.05" fill="none"/>
<circle cx="481.40" cy="349.90" r="2.6" fill="none" stroke="#d9005b" stroke-width="1.85"/>
<path d="M476.40,349.90H486.40M481.40,344.90V354.90M478.20,346.70L484.60,353.10M478.20,353.10L484.60,346.70" stroke="#d9005b" stroke-width="2.05" fill="none"/>
<circle cx="486.40" cy="354.20" r="2.6" fill="none" stroke="#d9005b" stroke-width="1.85"/>
<path d="M481.40,354.20H491.40M486.40,349.20V359.20M483.20,351.00L489.60,357.40M483.20,357.40L489.60,351.00" stroke="#d9005b" stroke-width="2.05" fill="none"/>
<circle cx="491.40" cy="331.10" r="2.6" fill="none" stroke="#d9005b" stroke-width="1.85"/>
<path d="M486.40,334.50H496.40M491.40,329.50V339.50M488.20,331.30L494.60,337.70M488.20,337.70L494.60,331.30" stroke="#d9005b" stroke-width="2.05" fill="none"/>
<circle cx="496.40" cy="307.10" r="2.6" fill="none" stroke="#d9005b" stroke-width="1.85"/>
<path d="M491.40,317.10H501.40M496.40,312.10V322.10M493.20,313.90L499.60,320.30M493.20,320.30L499.60,313.90" stroke="#d9005b" stroke-width="2.05" fill="none"/>
<circle cx="501.40" cy="319.80" r="2.6" fill="none" stroke="#d9005b" stroke-width="1.85"/>
<path d="M496.40,322.60H506.40M501.40,317.60V327.60M498.20,319.40L504.60,325.80M498.20,325.80L504.60,319.40" stroke="#d9005b" stroke-width="2.05" fill="none"/>
<circle cx="506.40" cy="303.20" r="2.6" fill="none" stroke="#d9005b" stroke-width="1.85"/>
<path d="M501.40,306.70H511.40M506.40,301.70V311.70M503.20,303.50L509.60,309.90M503.20,309.90L509.60,303.50" stroke="#d9005b" stroke-width="2.05" fill="none"/>
<circle cx="511.40" cy="85.80" r="2.6" fill="none" stroke="#d9005b" stroke-width="1.85"/>
<path d="M506.40,88.30H516.40M511.40,83.30V93.30M508.20,85.10L514.60,91.50M508.20,91.50L514.60,85.10" stroke="#d9005b" stroke-width="2.05" fill="none"/>
<circle cx="516.40" cy="316.40" r="2.6" fill="none" stroke="#d9005b" stroke-width="1.85"/>
<path d="M511.40,321.90H521.40M516.40,316.90V326.90M513.20,318.70L519.60,325.10M513.20,325.10L519.60,318.70" stroke="#d9005b" stroke-width="2.05" fill="none"/>
<circle cx="521.40" cy="311.50" r="2.6" fill="none" stroke="#d9005b" stroke-width="1.85"/>
<path d="M516.40,315.70H526.40M521.40,310.70V320.70M518.20,312.50L524.60,318.90M518.20,318.90L524.60,312.50" stroke="#d9005b" stroke-width="2.05" fill="none"/>
<circle cx="526.40" cy="337.30" r="2.6" fill="none" stroke="#d9005b" stroke-width="1.85"/>
<path d="M521.40,344.90H531.40M526.40,339.90V349.90M523.20,341.70L529.60,348.10M523.20,348.10L529.60,341.70" stroke="#d9005b" stroke-width="2.05" fill="none"/>
<circle cx="531.40" cy="338.00" r="2.6" fill="none" stroke="#d9005b" stroke-width="1.85"/>
<path d="M526.40,349.80H536.40M531.40,344.80V354.80M528.20,346.60L534.60,353.00M528.20,353.00L534.60,346.60" stroke="#d9005b" stroke-width="2.05" fill="none"/>
<circle cx="536.40" cy="308.10" r="2.6" fill="none" stroke="#d9005b" stroke-width="1.85"/>
<path d="M531.40,317.70H541.40M536.40,312.70V322.70M533.20,314.50L539.60,320.90M533.20,320.90L539.60,314.50" stroke="#d9005b" stroke-width="2.05" fill="none"/>
<circle cx="541.40" cy="342.80" r="2.6" fill="none" stroke="#d9005b" stroke-width="1.85"/>
<path d="M536.40,345.60H546.40M541.40,340.60V350.60M538.20,342.40L544.60,348.80M538.20,348.80L544.60,342.40" stroke="#d9005b" stroke-width="2.05" fill="none"/>
<circle cx="546.40" cy="342.10" r="2.6" fill="none" stroke="#d9005b" stroke-width="1.85"/>
<path d="M541.40,345.60H551.40M546.40,340.60V350.60M543.20,342.40L549.60,348.80M543.20,348.80L549.60,342.40" stroke="#d9005b" stroke-width="2.05" fill="none"/>
<circle cx="551.40" cy="340.80" r="2.6" fill="none" stroke="#d9005b" stroke-width="1.85"/>
<path d="M546.40,344.90H556.40M551.40,339.90V349.90M548.20,341.70L554.60,348.10M548.20,348.10L554.60,341.70" stroke="#d9005b" stroke-width="2.05" fill="none"/>
<circle cx="556.40" cy="332.50" r="2.6" fill="none" stroke="#d9005b" stroke-width="1.85"/>
<path d="M551.40,335.20H561.40M556.40,330.20V340.20M553.20,332.00L559.60,338.40M553.20,338.40L559.60,332.00" stroke="#d9005b" stroke-width="2.05" fill="none"/>
<circle cx="561.40" cy="334.10" r="2.6" fill="none" stroke="#d9005b" stroke-width="1.85"/>
<path d="M556.40,336.90H566.40M561.40,331.90V341.90M558.20,333.70L564.60,340.10M558.20,340.10L564.60,333.70" stroke="#d9005b" stroke-width="2.05" fill="none"/>
<circle cx="566.40" cy="341.90" r="2.6" fill="none" stroke="#d9005b" stroke-width="1.85"/>
<path d="M561.40,348.10H571.40M566.40,343.10V353.10M563.20,344.90L569.60,351.30M563.20,351.30L569.60,344.90" stroke="#d9005b" stroke-width="2.05" fill="none"/>
<circle cx="571.40" cy="366.10" r="2.6" fill="none" stroke="#d9005b" stroke-width="1.85"/>
<path d="M566.40,368.20H576.40M571.40,363.20V373.20M568.20,365.00L574.60,371.40M568.20,371.40L574.60,365.00" stroke="#d9005b" stroke-width="2.05" fill="none"/>
<circle cx="576.40" cy="357.10" r="2.6" fill="none" stroke="#d9005b" stroke-width="1.85"/>
<path d="M571.40,359.90H581.40M576.40,354.90V364.90M573.20,356.70L579.60,363.10M573.20,363.10L579.60,356.70" stroke="#d9005b" stroke-width="2.05" fill="none"/>
<circle cx="581.40" cy="339.50" r="2.6" fill="none" stroke="#d9005b" stroke-width="1.85"/>
<path d="M576.40,343.30H586.40M581.40,338.30V348.30M578.20,340.10L584.60,346.50M578.20,346.50L584.60,340.10" stroke="#d9005b" stroke-width="2.05" fill="none"/>
<circle cx="586.40" cy="347.10" r="2.6" fill="none" stroke="#d9005b" stroke-width="1.85"/>
<path d="M581.40,351.30H591.40M586.40,346.30V356.30M583.20,348.10L589.60,354.50M583.20,354.50L589.60,348.10" stroke="#d9005b" stroke-width="2.05" fill="none"/>
<circle cx="591.40" cy="359.90" r="2.6" fill="none" stroke="#d9005b" stroke-width="1.85"/>
<path d="M586.40,359.90H596.40M591.40,354.90V364.90M588.20,356.70L594.60,363.10M588.20,363.10L594.60,356.70" stroke="#d9005b" stroke-width="2.05" fill="none"/>
<circle cx="596.40" cy="347.10" r="2.6" fill="none" stroke="#d9005b" stroke-width="1.85"/>
<path d="M591.40,351.90H601.40M596.40,346.90V356.90M593.20,348.70L599.60,355.10M593.20,355.10L599.60,348.70" stroke="#d9005b" stroke-width="2.05" fill="none"/>
<circle cx="601.40" cy="358.50" r="2.6" fill="none" stroke="#d9005b" stroke-width="1.85"/>
<path d="M596.40,360.60H606.40M601.40,355.60V365.60M598.20,357.40L604.60,363.80M598.20,363.80L604.60,357.40" stroke="#d9005b" stroke-width="2.05" fill="none"/>
<circle cx="606.40" cy="363.40" r="2.6" fill="none" stroke="#d9005b" stroke-width="1.85"/>
<path d="M601.40,365.40H611.40M606.40,360.40V370.40M603.20,362.20L609.60,368.60M603.20,368.60L609.60,362.20" stroke="#d9005b" stroke-width="2.05" fill="none"/>
<circle cx="611.40" cy="375.10" r="2.6" fill="none" stroke="#d9005b" stroke-width="1.85"/>
<path d="M606.40,377.20H616.40M611.40,372.20V382.20M608.20,374.00L614.60,380.40M608.20,380.40L614.60,374.00" stroke="#d9005b" stroke-width="2.05" fill="none"/>
<circle cx="616.40" cy="359.90" r="2.6" fill="none" stroke="#d9005b" stroke-width="1.85"/>
<path d="M611.40,363.40H621.40M616.40,358.40V368.40M613.20,360.20L619.60,366.60M613.20,366.60L619.60,360.20" stroke="#d9005b" stroke-width="2.05" fill="none"/>
<circle cx="621.40" cy="338.30" r="2.6" fill="none" stroke="#d9005b" stroke-width="1.85"/>
<path d="M616.40,340.90H626.40M621.40,335.90V345.90M618.20,337.70L624.60,344.10M618.20,344.10L624.60,337.70" stroke="#d9005b" stroke-width="2.05" fill="none"/>
<circle cx="626.40" cy="348.80" r="2.6" fill="none" stroke="#d9005b" stroke-width="1.85"/>
<path d="M621.40,352.30H631.40M626.40,347.30V357.30M623.20,349.10L629.60,355.50M623.20,355.50L629.60,349.10" stroke="#d9005b" stroke-width="2.05" fill="none"/>
<circle cx="631.40" cy="327.40" r="2.6" fill="none" stroke="#d9005b" stroke-width="1.85"/>
<path d="M626.40,327.40H636.40M631.40,322.40V332.40M628.20,324.20L634.60,330.60M628.20,330.60L634.60,324.20" stroke="#d9005b" stroke-width="2.05" fill="none"/>
<circle cx="636.40" cy="307.00" r="2.6" fill="none" stroke="#d9005b" stroke-width="1.85"/>
<path d="M631.40,309.00H641.40M636.40,304.00V314.00M633.20,305.80L639.60,312.20M633.20,312.20L639.60,305.80" stroke="#d9005b" stroke-width="2.05" fill="none"/>
<circle cx="641.40" cy="310.50" r="2.6" fill="none" stroke="#d9005b" stroke-width="1.85"/>
<path d="M636.40,313.00H646.40M641.40,308.00V318.00M638.20,309.80L644.60,316.20M638.20,316.20L644.60,309.80" stroke="#d9005b" stroke-width="2.05" fill="none"/>
<circle cx="646.40" cy="316.80" r="2.6" fill="none" stroke="#d9005b" stroke-width="1.85"/>
<path d="M641.40,323.90H651.40M646.40,318.90V328.90M643.20,320.70L649.60,327.10M643.20,327.10L649.60,320.70" stroke="#d9005b" stroke-width="2.05" fill="none"/>
<circle cx="651.40" cy="339.90" r="2.6" fill="none" stroke="#d9005b" stroke-width="1.85"/>
<path d="M646.40,341.80H656.40M651.40,336.80V346.80M648.20,338.60L654.60,345.00M648.20,345.00L654.60,338.60" stroke="#d9005b" stroke-width="2.05" fill="none"/>
<circle cx="655.40" cy="399.00" r="2.6" fill="none" stroke="#d9005b" stroke-width="1.85"/>
<path d="M650.40,399.00H660.40M655.40,394.00V404.00M652.20,395.80L658.60,402.20M652.20,402.20L658.60,395.80" stroke="#d9005b" stroke-width="2.05" fill="none"/>
<text stroke="#262626" stroke-width="0.25" x="52.3" y="404.8" font-size="16" fill="#262626" text-anchor="end">-3</text>
<text stroke="#262626" stroke-width="0.25" x="52.3" y="357.8" font-size="16" fill="#262626" text-anchor="end">-2</text>
<text stroke="#262626" stroke-width="0.25" x="52.3" y="310.9" font-size="16" fill="#262626" text-anchor="end">-1</text>
<text stroke="#262626" stroke-width="0.25" x="52.3" y="263.9" font-size="16" fill="#262626" text-anchor="end">0</text>
<text stroke="#262626" stroke-width="0.25" x="52.3" y="217.0" font-size="16" fill="#262626" text-anchor="end">1</text>
<text stroke="#262626" stroke-width="0.25" x="52.3" y="170.0" font-size="16" fill="#262626" text-anchor="end">2</text>
<text stroke="#262626" stroke-width="0.25" x="52.3" y="123.1" font-size="16" fill="#262626" text-anchor="end">3</text>
<text stroke="#262626" stroke-width="0.25" x="52.3" y="76.1" font-size="16" fill="#262626" text-anchor="end">4</text>
<text stroke="#d9005b" stroke-width="0.25" x="661.1" y="404.8" font-size="16" fill="#d9005b">0</text>
<text stroke="#d9005b" stroke-width="0.25" x="661.1" y="357.8" font-size="16" fill="#d9005b">100</text>
<text stroke="#d9005b" stroke-width="0.25" x="661.1" y="310.9" font-size="16" fill="#d9005b">200</text>
<text stroke="#d9005b" stroke-width="0.25" x="661.1" y="263.9" font-size="16" fill="#d9005b">300</text>
<text stroke="#d9005b" stroke-width="0.25" x="661.1" y="217.0" font-size="16" fill="#d9005b">400</text>
<text stroke="#d9005b" stroke-width="0.25" x="661.1" y="170.0" font-size="16" fill="#d9005b">500</text>
<text stroke="#d9005b" stroke-width="0.25" x="661.1" y="123.1" font-size="16" fill="#d9005b">600</text>
<text stroke="#d9005b" stroke-width="0.25" x="661.1" y="76.1" font-size="16" fill="#d9005b">700</text>
<text stroke="#262626" stroke-width="0.25" x="137.5" y="419.5" font-size="16" fill="#262626" text-anchor="middle">06/05</text>
<text stroke="#262626" stroke-width="0.25" x="237.5" y="419.5" font-size="16" fill="#262626" text-anchor="middle">06/10</text>
<text stroke="#262626" stroke-width="0.25" x="337.5" y="419.5" font-size="16" fill="#262626" text-anchor="middle">06/15</text>
<text stroke="#262626" stroke-width="0.25" x="436.5" y="419.5" font-size="16" fill="#262626" text-anchor="middle">06/20</text>
<text stroke="#262626" stroke-width="0.25" x="536.5" y="419.5" font-size="16" fill="#262626" text-anchor="middle">06/25</text>
<text stroke="#262626" stroke-width="0.25" x="636.5" y="419.5" font-size="16" fill="#262626" text-anchor="middle">06/30</text>
<text stroke="#262626" stroke-width="0.25" x="356.6" y="441" font-size="16" fill="#262626" text-anchor="middle">Jun.01,2013 00:00:00 start</text>
<text stroke="#262626" stroke-width="0.25" transform="translate(30.7,233.2) rotate(-90)" font-size="16.19" fill="#262626" text-anchor="middle">rmse and bias (model - observation)</text>
<text stroke="#d9005b" stroke-width="0.25" transform="translate(707.3,233.9) rotate(-90)" font-size="16.16" fill="#d9005b" text-anchor="middle"># of obs: o=possible; <tspan fill="none" stroke="none">&#215;</tspan>=assimilated</text>
<path d="M701.2,200.2L704.8,203.8M701.2,203.8L704.8,200.2" stroke="#d9005b" stroke-width="1" fill="none"/><path d="M700.5,202H705.5" stroke="#d9005b" stroke-width="1" stroke-opacity="0.35"/>
<text x="357" y="42" font-size="16.2" font-weight="bold" fill="#000" text-anchor="middle">Northern Hemisphere 12969 / 13651 = 95.004%</text>
<text x="357" y="62" font-size="16.2" font-weight="bold" fill="#000" text-anchor="middle" textLength="279.2" lengthAdjust="spacingAndGlyphs">SAT_HORIZONTAL_WIND @ 925 hPa</text>
<text x="146.4" y="457.4" font-size="8" fill="#000" textLength="503.2" lengthAdjust="spacingAndGlyphs">data file: /Users/raeder/DAI/ATM_forcXX/CAM6_setup/f.e21.FHIST_BGC.f09_025.CAM6assim.011/Diags_NTrS_2013-06/obs_diag_output.nc</text>
<line x1="438.2" y1="89.2" x2="469.5" y2="89.2" stroke="#000" stroke-width="2"/>
<circle cx="453.5" cy="89.2" r="3.5" fill="#000"/>
<line x1="438.2" y1="109.5" x2="469.5" y2="109.5" stroke="#008080" stroke-width="2"/>
<circle cx="453.5" cy="109.5" r="3.5" fill="#008080"/>
<text stroke="#0a50ff" stroke-width="0.25" x="471.4" y="95.6" font-size="16.1" fill="#0a50ff">rmse grand pr = 2.3817</text>
<text stroke="#0a50ff" stroke-width="0.25" x="471.4" y="114.8" font-size="16.1" fill="#0a50ff">bias grand pr = 0.18571</text>
</svg></body></html>
